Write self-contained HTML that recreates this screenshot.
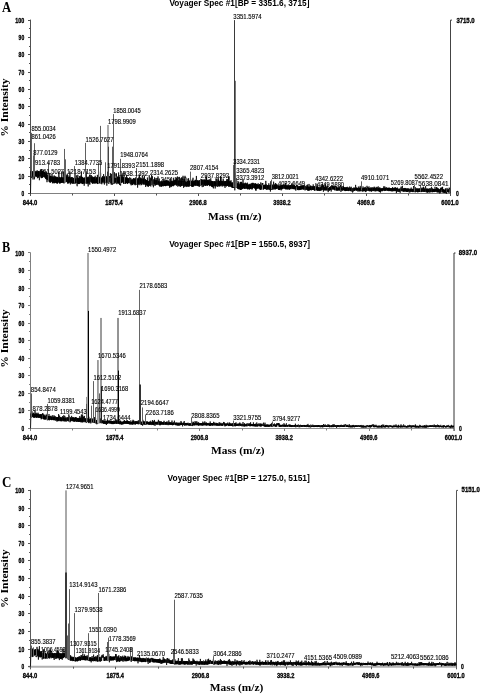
<!DOCTYPE html>
<html><head><meta charset="utf-8"><title>Voyager Spec</title>
<style>html,body{margin:0;padding:0;background:#fff;width:480px;height:695px;overflow:hidden}svg{display:block}</style>
</head><body>
<svg width="480" height="695" viewBox="0 0 480 695">
<rect width="480" height="695" fill="#fff"/>
<path d="M30.50,19.60V196.00" stroke="#505050" stroke-width="1" fill="none"/>
<path d="M28.50,193.50H450.50" stroke="#808080" stroke-width="1" fill="none"/>
<path d="M452.00,20.10H450.50V196.00" stroke="#444" stroke-width="1" fill="none"/>
<path d="M28.00,193.50H30.50M29.00,184.50H30.50M28.00,176.50H30.50M29.00,167.50H30.50M28.00,158.50H30.50M29.00,150.50H30.50M28.00,141.50H30.50M29.00,132.50H30.50M28.00,124.50H30.50M29.00,115.50H30.50M28.00,106.50H30.50M29.00,98.50H30.50M28.00,89.50H30.50M29.00,80.50H30.50M28.00,72.50H30.50M29.00,63.50H30.50M28.00,54.50H30.50M29.00,46.50H30.50M28.00,37.50H30.50M29.00,28.50H30.50M28.00,20.50H30.50M30.50,193.50V196.00M72.50,193.50V195.50M114.50,193.50V196.00M156.50,193.50V195.50M198.50,193.50V196.00M240.50,193.50V195.50M282.50,193.50V196.00M324.50,193.50V195.50M366.50,193.50V196.00M408.50,193.50V195.50M450.50,193.50V196.00" stroke="#505050" stroke-width="1" fill="none"/>
<text x="24.20" y="196.00" font-size="6.9" font-family="'Liberation Sans', Arial, sans-serif" font-weight="bold" text-anchor="end" textLength="2.70" lengthAdjust="spacingAndGlyphs" stroke="#000" stroke-width="0.3">0</text>
<text x="24.20" y="178.66" font-size="6.9" font-family="'Liberation Sans', Arial, sans-serif" font-weight="bold" text-anchor="end" textLength="5.60" lengthAdjust="spacingAndGlyphs" stroke="#000" stroke-width="0.3">10</text>
<text x="24.20" y="161.32" font-size="6.9" font-family="'Liberation Sans', Arial, sans-serif" font-weight="bold" text-anchor="end" textLength="5.60" lengthAdjust="spacingAndGlyphs" stroke="#000" stroke-width="0.3">20</text>
<text x="24.20" y="143.98" font-size="6.9" font-family="'Liberation Sans', Arial, sans-serif" font-weight="bold" text-anchor="end" textLength="5.60" lengthAdjust="spacingAndGlyphs" stroke="#000" stroke-width="0.3">30</text>
<text x="24.20" y="126.64" font-size="6.9" font-family="'Liberation Sans', Arial, sans-serif" font-weight="bold" text-anchor="end" textLength="5.60" lengthAdjust="spacingAndGlyphs" stroke="#000" stroke-width="0.3">40</text>
<text x="24.20" y="109.30" font-size="6.9" font-family="'Liberation Sans', Arial, sans-serif" font-weight="bold" text-anchor="end" textLength="5.60" lengthAdjust="spacingAndGlyphs" stroke="#000" stroke-width="0.3">50</text>
<text x="24.20" y="91.96" font-size="6.9" font-family="'Liberation Sans', Arial, sans-serif" font-weight="bold" text-anchor="end" textLength="5.60" lengthAdjust="spacingAndGlyphs" stroke="#000" stroke-width="0.3">60</text>
<text x="24.20" y="74.62" font-size="6.9" font-family="'Liberation Sans', Arial, sans-serif" font-weight="bold" text-anchor="end" textLength="5.60" lengthAdjust="spacingAndGlyphs" stroke="#000" stroke-width="0.3">70</text>
<text x="24.20" y="57.28" font-size="6.9" font-family="'Liberation Sans', Arial, sans-serif" font-weight="bold" text-anchor="end" textLength="5.60" lengthAdjust="spacingAndGlyphs" stroke="#000" stroke-width="0.3">80</text>
<text x="24.20" y="39.94" font-size="6.9" font-family="'Liberation Sans', Arial, sans-serif" font-weight="bold" text-anchor="end" textLength="5.60" lengthAdjust="spacingAndGlyphs" stroke="#000" stroke-width="0.3">90</text>
<text x="24.20" y="22.60" font-size="6.9" font-family="'Liberation Sans', Arial, sans-serif" font-weight="bold" text-anchor="end" textLength="9.00" lengthAdjust="spacingAndGlyphs" stroke="#000" stroke-width="0.3">100</text>
<text x="30.00" y="204.90" font-size="6.9" font-family="'Liberation Sans', Arial, sans-serif" font-weight="bold" text-anchor="middle" textLength="14.60" lengthAdjust="spacingAndGlyphs" stroke="#000" stroke-width="0.3">844.0</text>
<text x="114.00" y="204.90" font-size="6.9" font-family="'Liberation Sans', Arial, sans-serif" font-weight="bold" text-anchor="middle" textLength="17.40" lengthAdjust="spacingAndGlyphs" stroke="#000" stroke-width="0.3">1875.4</text>
<text x="198.00" y="204.90" font-size="6.9" font-family="'Liberation Sans', Arial, sans-serif" font-weight="bold" text-anchor="middle" textLength="17.40" lengthAdjust="spacingAndGlyphs" stroke="#000" stroke-width="0.3">2906.8</text>
<text x="282.00" y="204.90" font-size="6.9" font-family="'Liberation Sans', Arial, sans-serif" font-weight="bold" text-anchor="middle" textLength="17.40" lengthAdjust="spacingAndGlyphs" stroke="#000" stroke-width="0.3">3938.2</text>
<text x="366.00" y="204.90" font-size="6.9" font-family="'Liberation Sans', Arial, sans-serif" font-weight="bold" text-anchor="middle" textLength="17.40" lengthAdjust="spacingAndGlyphs" stroke="#000" stroke-width="0.3">4969.6</text>
<text x="450.00" y="204.90" font-size="6.9" font-family="'Liberation Sans', Arial, sans-serif" font-weight="bold" text-anchor="middle" textLength="17.40" lengthAdjust="spacingAndGlyphs" stroke="#000" stroke-width="0.3">6001.0</text>
<text x="456.40" y="23.00" font-size="6.9" font-family="'Liberation Sans', Arial, sans-serif" font-weight="bold" textLength="18.30" lengthAdjust="spacingAndGlyphs" stroke="#000" stroke-width="0.3">3715.0</text>
<text x="456.00" y="195.70" font-size="6.9" font-family="'Liberation Sans', Arial, sans-serif" font-weight="bold" textLength="2.80" lengthAdjust="spacingAndGlyphs" stroke="#000" stroke-width="0.3">0</text>
<text x="1.90" y="11.80" font-size="14.8" font-family="'Liberation Serif', 'Times New Roman', serif" font-weight="bold" textLength="9.20" lengthAdjust="spacingAndGlyphs">A</text>
<text x="169.40" y="5.60" font-size="8.8" font-family="'Liberation Sans', Arial, sans-serif" font-weight="bold" textLength="140.00" lengthAdjust="spacingAndGlyphs">Voyager Spec #1[BP = 3351.6, 3715]</text>
<text x="8.10" y="136.80" font-size="11.4" font-family="'Liberation Serif', 'Times New Roman', serif" font-weight="bold" textLength="58.40" lengthAdjust="spacingAndGlyphs" transform="rotate(-90 8.1 136.80)">% Intensity</text>
<text x="208.00" y="219.50" font-size="11.4" font-family="'Liberation Serif', 'Times New Roman', serif" font-weight="bold" textLength="53.50" lengthAdjust="spacingAndGlyphs">Mass (m/z)</text>
<polyline fill="none" stroke="#000" stroke-width="0.75" stroke-linejoin="bevel" points="30.50,193.50 31.00,171.15 31.20,177.02 31.40,170.25 31.60,177.58 31.80,177.91 32.00,175.73 32.20,171.15 32.40,176.55 32.60,171.47 32.80,176.32 33.00,179.49 33.20,175.64 33.40,171.58 33.60,176.26 33.80,170.82 34.00,176.58 34.20,171.93 34.40,179.31 34.60,170.46 34.80,177.28 35.00,172.11 35.20,176.24 35.40,171.79 35.60,176.08 35.80,171.32 36.00,176.25 36.20,170.91 36.40,176.73 36.60,172.04 36.80,176.52 37.00,171.53 37.20,170.28 37.40,178.24 37.60,176.75 37.80,171.16 38.00,177.37 38.20,171.79 38.40,177.64 38.60,171.02 38.80,176.22 39.00,170.96 39.20,176.46 39.40,180.23 39.60,177.19 39.80,171.40 40.00,176.27 40.20,172.56 40.40,169.65 40.60,172.75 40.80,176.61 41.00,171.95 41.20,178.07 41.40,169.14 41.60,178.07 41.80,177.73 42.00,177.62 42.20,171.41 42.40,177.86 42.60,171.04 42.80,176.84 43.00,171.54 43.20,177.14 43.40,171.21 43.60,170.32 43.80,172.01 44.00,176.64 44.20,171.89 44.40,177.07 44.60,172.31 44.80,177.69 45.00,172.87 45.20,171.54 45.40,173.58 45.60,178.82 45.80,173.64 46.00,178.56 46.20,173.43 46.40,179.55 46.60,171.65 46.80,179.02 47.00,182.20 47.20,179.58 47.40,175.11 47.60,180.05 47.80,175.98 48.00,172.89 48.20,175.94 48.40,174.57 48.60,172.70 48.80,174.07 49.00,176.40 49.20,181.99 49.40,176.65 49.60,182.07 49.80,172.97 50.00,182.47 50.20,176.06 50.40,182.64 50.60,175.83 50.80,181.63 51.00,176.97 51.20,181.54 51.40,176.21 51.60,181.70 51.80,177.59 52.00,173.95 52.20,176.59 52.40,183.24 52.60,176.42 52.80,182.89 53.00,177.59 53.20,183.28 53.40,177.36 53.60,181.89 53.80,176.45 54.00,182.65 54.20,175.41 54.40,183.27 54.60,177.83 54.80,182.52 55.00,176.33 55.20,183.02 55.40,176.81 55.60,182.07 55.80,176.63 56.00,182.95 56.20,178.07 56.40,183.21 56.60,177.12 56.80,183.05 57.00,176.81 57.20,183.61 57.40,177.51 57.60,183.40 57.80,177.15 58.00,182.32 58.20,177.93 58.40,182.42 58.60,177.47 58.80,171.50 59.00,173.43 59.20,182.62 59.40,176.86 59.60,183.35 59.80,177.86 60.00,183.70 60.20,177.83 60.40,182.87 60.60,177.82 60.80,182.69 61.00,177.22 61.20,182.80 61.40,177.17 61.60,182.79 61.80,171.47 62.00,182.44 62.20,177.31 62.40,182.23 62.60,177.76 62.80,182.90 63.00,177.90 63.20,183.03 63.40,176.79 63.60,171.46 63.80,176.96 64.00,183.46 64.20,177.22 64.40,182.30 64.60,174.99 64.80,181.56 65.00,177.04 65.20,181.90 65.40,176.32 65.60,181.30 65.80,177.11 66.00,181.66 66.20,176.83 66.40,181.82 66.60,175.27 66.80,182.17 67.00,177.51 67.20,173.80 67.40,176.92 67.60,183.62 67.80,175.01 68.00,182.89 68.20,177.32 68.40,183.09 68.60,176.97 68.80,183.49 69.00,176.65 69.20,182.60 69.40,176.60 69.60,182.34 69.80,171.40 70.00,172.14 70.20,177.30 70.40,184.38 70.60,177.62 70.80,182.35 71.00,177.46 71.20,182.74 71.40,177.77 71.60,182.64 71.80,177.08 72.00,183.67 72.20,177.21 72.40,183.58 72.60,183.82 72.80,183.22 73.00,177.78 73.20,182.89 73.40,177.97 73.60,183.39 73.80,178.16 74.00,183.94 74.20,178.47 74.40,182.81 74.60,178.00 74.80,182.72 75.00,173.75 75.20,183.56 75.40,178.72 75.60,183.20 75.80,178.63 76.00,183.07 76.20,177.16 76.40,175.38 76.60,177.47 76.80,183.37 77.00,185.22 77.20,186.22 77.40,177.47 77.60,183.36 77.80,174.80 78.00,183.76 78.20,178.00 78.40,183.88 78.60,178.66 78.80,184.07 79.00,177.84 79.20,183.19 79.40,176.02 79.60,183.93 79.80,178.20 80.00,183.12 80.20,176.82 80.40,183.19 80.60,178.42 80.80,175.65 81.00,177.31 81.20,183.20 81.40,171.29 81.60,183.18 81.80,177.00 82.00,183.51 82.20,176.86 82.40,184.06 82.60,177.37 82.80,183.82 83.00,178.31 83.20,183.86 83.40,177.72 83.60,182.95 83.80,178.06 84.00,183.47 84.20,185.71 84.40,184.36 84.60,177.45 84.80,183.55 85.00,178.39 85.20,182.67 85.40,178.05 85.60,183.24 85.80,176.90 86.00,182.50 86.20,171.25 86.40,174.91 86.60,177.94 86.80,183.86 87.00,177.57 87.20,183.72 87.40,177.64 87.60,183.04 87.80,176.82 88.00,183.31 88.20,186.43 88.40,182.33 88.60,176.75 88.80,183.16 89.00,177.95 89.20,183.93 89.40,176.37 89.60,174.81 89.80,184.73 90.00,183.50 90.20,174.70 90.40,175.58 90.60,176.21 90.80,181.78 91.00,177.07 91.20,182.04 91.40,175.18 91.60,182.57 91.80,177.51 92.00,182.52 92.20,177.57 92.40,183.70 92.60,176.43 92.80,183.49 93.00,177.91 93.20,183.15 93.40,177.60 93.60,183.10 93.80,177.00 94.00,183.39 94.20,177.15 94.40,183.49 94.60,177.49 94.80,182.66 95.00,176.84 95.20,175.78 95.40,178.41 95.60,183.48 95.80,178.54 96.00,183.06 96.20,177.00 96.40,183.21 96.60,178.00 96.80,183.02 97.00,177.51 97.20,183.37 97.40,174.88 97.60,184.04 97.80,177.52 98.00,183.92 98.20,177.64 98.40,182.98 98.60,171.56 98.80,182.47 99.00,177.06 99.20,182.73 99.40,177.68 99.60,183.21 99.80,176.78 100.00,183.48 100.20,177.95 100.40,182.96 100.60,172.89 100.80,182.86 101.00,177.54 101.20,183.57 101.40,177.81 101.60,182.27 101.80,184.25 102.00,183.54 102.20,177.41 102.40,181.90 102.60,176.08 102.80,182.82 103.00,177.26 103.20,181.69 103.40,176.80 103.60,174.08 103.80,176.11 104.00,183.30 104.20,176.52 104.40,184.59 104.60,177.26 104.80,182.04 105.00,176.50 105.20,182.09 105.40,176.43 105.60,181.97 105.80,176.19 106.00,182.88 106.20,176.00 106.40,181.95 106.60,177.00 106.80,185.64 107.00,177.55 107.20,182.61 107.40,176.61 107.60,171.68 107.80,176.69 108.00,182.80 108.20,177.79 108.40,182.20 108.60,177.28 108.80,183.96 109.00,176.90 109.20,182.20 109.40,178.33 109.60,176.21 109.80,176.99 110.00,176.22 110.20,177.91 110.40,173.19 110.60,178.09 110.80,183.26 111.00,177.69 111.20,184.50 111.40,178.73 111.60,173.87 111.80,178.66 112.00,184.68 112.20,178.02 112.40,184.32 112.60,178.44 112.80,184.23 113.00,178.34 113.20,183.72 113.40,178.38 113.60,183.49 113.80,177.21 114.00,182.79 114.20,177.10 114.40,172.18 114.60,177.21 114.80,183.79 115.00,177.93 115.20,182.68 115.40,177.91 115.60,182.48 115.80,177.75 116.00,173.38 116.20,176.22 116.40,173.52 116.60,177.15 116.80,184.16 117.00,177.79 117.20,182.74 117.40,176.90 117.60,182.36 117.80,176.52 118.00,183.61 118.20,177.13 118.40,183.32 118.60,172.48 118.80,183.24 119.00,177.59 119.20,183.53 119.40,177.06 119.60,185.04 119.80,177.23 120.00,175.32 120.20,174.92 120.40,183.17 120.60,185.51 120.80,183.53 121.00,176.67 121.20,182.54 121.40,176.35 121.60,182.92 121.80,176.96 122.00,174.61 122.20,177.68 122.40,181.97 122.60,176.75 122.80,182.30 123.00,172.80 123.20,183.03 123.40,177.07 123.60,183.76 123.80,177.71 124.00,183.74 124.20,178.06 124.40,182.47 124.60,177.07 124.80,183.27 125.00,178.01 125.20,183.96 125.40,177.52 125.60,183.39 125.80,177.35 126.00,183.25 126.20,178.40 126.40,182.91 126.60,174.94 126.80,183.16 127.00,178.44 127.20,183.15 127.40,177.47 127.60,184.04 127.80,178.27 128.00,183.08 128.20,178.69 128.40,182.63 128.60,178.44 128.80,182.93 129.00,178.21 129.20,183.23 129.40,178.28 129.60,177.36 129.80,177.86 130.00,177.78 130.20,179.14 130.40,184.26 130.60,179.17 130.80,177.85 131.00,179.04 131.20,185.35 131.40,179.82 131.60,183.74 131.80,179.57 132.00,184.44 132.20,179.53 132.40,184.95 132.60,179.54 132.80,185.08 133.00,179.72 133.20,183.79 133.40,178.05 133.60,183.37 133.80,178.57 134.00,183.33 134.20,179.25 134.40,184.31 134.60,178.59 134.80,184.54 135.00,178.45 135.20,185.25 135.40,179.77 135.60,184.46 135.80,177.33 136.00,183.90 136.20,178.61 136.40,184.49 136.60,178.29 136.80,184.34 137.00,179.15 137.20,184.15 137.40,179.20 137.60,187.63 137.80,178.07 138.00,183.91 138.20,178.81 138.40,184.55 138.60,178.42 138.80,183.69 139.00,176.63 139.20,185.16 139.40,174.55 139.60,178.04 139.80,178.68 140.00,183.90 140.20,178.71 140.40,183.96 140.60,177.60 140.80,183.66 141.00,185.26 141.20,184.14 141.40,178.25 141.60,184.81 141.80,179.22 142.00,183.24 142.20,176.08 142.40,175.73 142.60,177.12 142.80,184.41 143.00,179.00 143.20,183.26 143.40,178.94 143.60,184.34 143.80,177.70 144.00,184.55 144.20,178.02 144.40,175.51 144.60,179.18 144.80,184.38 145.00,179.28 145.20,184.36 145.40,179.27 145.60,186.95 145.80,180.19 146.00,184.87 146.20,179.97 146.40,185.01 146.60,180.36 146.80,185.34 147.00,180.19 147.20,186.35 147.40,177.56 147.60,186.13 147.80,181.12 148.00,185.51 148.20,181.77 148.40,186.85 148.60,180.93 148.80,185.53 149.00,180.55 149.20,175.19 149.40,176.64 149.60,185.70 149.80,180.25 150.00,185.71 150.20,180.22 150.40,178.52 150.60,177.70 150.80,186.48 151.00,180.51 151.20,178.40 151.40,180.48 151.60,174.89 151.80,180.11 152.00,184.96 152.20,180.06 152.40,176.27 152.60,179.37 152.80,184.36 153.00,185.65 153.20,185.05 153.40,187.26 153.60,183.60 153.80,179.27 154.00,184.06 154.20,179.63 154.40,184.42 154.60,177.35 154.80,184.67 155.00,185.83 155.20,183.89 155.40,179.84 155.60,185.20 155.80,180.26 156.00,178.05 156.20,179.09 156.40,184.64 156.60,180.17 156.80,184.96 157.00,179.94 157.20,177.88 157.40,179.62 157.60,184.58 157.80,180.68 158.00,176.38 158.20,178.07 158.40,184.51 158.60,180.92 158.80,185.35 159.00,179.98 159.20,179.29 159.40,178.64 159.60,186.47 159.80,181.88 160.00,185.89 160.20,181.12 160.40,185.81 160.60,186.25 160.80,186.34 161.00,181.85 161.20,186.99 161.40,182.28 161.60,185.99 161.80,181.30 162.00,186.39 162.20,181.44 162.40,185.77 162.60,182.25 162.80,185.97 163.00,181.56 163.20,178.97 163.40,186.31 163.60,185.89 163.80,180.80 164.00,185.56 164.20,181.27 164.40,185.62 164.60,180.77 164.80,186.02 165.00,180.91 165.20,185.79 165.40,180.86 165.60,186.16 165.80,180.61 166.00,185.63 166.20,181.00 166.40,185.36 166.60,180.25 166.80,185.48 167.00,180.33 167.20,185.74 167.40,181.25 167.60,185.24 167.80,181.21 168.00,184.92 168.20,180.44 168.40,185.26 168.60,181.53 168.80,185.71 169.00,181.08 169.20,186.00 169.40,182.03 169.60,187.77 169.80,182.26 170.00,185.76 170.20,182.00 170.40,186.21 170.60,178.39 170.80,187.20 171.00,186.57 171.20,186.94 171.40,180.82 171.60,186.38 171.80,181.62 172.00,185.79 172.20,181.34 172.40,185.86 172.60,181.81 172.80,185.82 173.00,180.58 173.20,186.28 173.40,177.75 173.60,185.65 173.80,181.02 174.00,184.94 174.20,181.12 174.40,185.23 174.60,180.20 174.80,185.17 175.00,179.50 175.20,184.20 175.40,179.63 175.60,184.46 175.80,179.58 176.00,184.80 176.20,180.56 176.40,185.71 176.60,178.14 176.80,184.82 177.00,180.93 177.20,185.32 177.40,176.51 177.60,178.49 177.80,186.67 178.00,186.03 178.20,181.64 178.40,185.44 178.60,180.39 178.80,185.80 179.00,181.10 179.20,176.86 179.40,181.00 179.60,186.33 179.80,180.59 180.00,185.77 180.20,178.32 180.40,179.50 180.60,186.87 180.80,185.43 181.00,180.96 181.20,185.90 181.40,178.26 181.60,185.81 181.80,181.23 182.00,185.84 182.20,180.86 182.40,178.70 182.60,180.50 182.80,185.61 183.00,175.79 183.20,179.11 183.40,180.60 183.60,187.83 183.80,180.91 184.00,185.81 184.20,181.54 184.40,179.09 184.60,182.26 184.80,187.01 185.00,175.82 185.20,185.73 185.40,182.07 185.60,185.86 185.80,182.19 186.00,186.58 186.20,186.71 186.40,186.01 186.60,181.80 186.80,186.60 187.00,181.42 187.20,186.51 187.40,180.99 187.60,186.21 187.80,181.13 188.00,178.61 188.20,181.73 188.40,186.44 188.60,178.30 188.80,186.48 189.00,180.95 189.20,186.54 189.40,180.72 189.60,185.30 189.80,180.69 190.00,185.44 190.20,181.20 190.40,185.77 190.60,181.60 190.80,185.88 191.00,181.63 191.20,185.26 191.40,180.92 191.60,186.51 191.80,181.27 192.00,186.47 192.20,179.66 192.40,186.77 192.60,181.66 192.80,186.84 193.00,177.77 193.20,185.90 193.40,181.08 193.60,186.58 193.80,181.64 194.00,185.54 194.20,181.43 194.40,185.12 194.60,181.12 194.80,185.29 195.00,179.92 195.20,186.02 195.40,180.39 195.60,185.29 195.80,179.84 196.00,185.14 196.20,181.16 196.40,175.96 196.60,179.82 196.80,186.01 197.00,180.62 197.20,185.07 197.40,180.29 197.60,185.88 197.80,180.84 198.00,186.11 198.20,180.80 198.40,185.39 198.60,181.40 198.80,186.31 199.00,180.14 199.20,185.95 199.40,186.78 199.60,185.15 199.80,180.18 200.00,185.83 200.20,180.25 200.40,184.77 200.60,180.65 200.80,185.04 201.00,180.70 201.20,185.26 201.40,179.24 201.60,185.25 201.80,179.47 202.00,183.97 202.20,187.14 202.40,185.28 202.60,179.71 202.80,184.31 203.00,179.89 203.20,184.37 203.40,186.78 203.60,184.34 203.80,179.48 204.00,185.46 204.20,180.29 204.40,185.36 204.60,179.54 204.80,184.42 205.00,180.74 205.20,185.79 205.40,179.89 205.60,185.87 205.80,180.21 206.00,176.08 206.20,180.57 206.40,185.60 206.60,177.30 206.80,185.07 207.00,180.80 207.20,184.86 207.40,179.87 207.60,185.91 207.80,180.15 208.00,185.10 208.20,179.99 208.40,184.98 208.60,180.50 208.80,185.02 209.00,180.73 209.20,179.14 209.40,180.35 209.60,186.13 209.80,180.06 210.00,186.09 210.20,181.52 210.40,185.45 210.60,179.15 210.80,178.34 211.00,181.83 211.20,185.90 211.40,180.83 211.60,186.84 211.80,180.94 212.00,185.80 212.20,181.79 212.40,187.07 212.60,181.05 212.80,187.18 213.00,181.10 213.20,186.72 213.40,188.39 213.60,186.36 213.80,181.64 214.00,186.40 214.20,181.00 214.40,185.87 214.60,181.68 214.80,185.48 215.00,181.54 215.20,188.48 215.40,181.49 215.60,186.25 215.80,181.99 216.00,178.34 216.20,180.55 216.40,186.27 216.60,180.78 216.80,178.94 217.00,180.10 217.20,185.61 217.40,186.72 217.60,185.68 217.80,180.62 218.00,186.57 218.20,177.69 218.40,185.57 218.60,179.57 218.80,185.87 219.00,181.02 219.20,186.42 219.40,181.23 219.60,186.11 219.80,180.91 220.00,186.36 220.20,180.70 220.40,185.61 220.60,176.26 220.80,185.43 221.00,176.79 221.20,185.38 221.40,181.02 221.60,185.20 221.80,180.79 222.00,186.44 222.20,180.94 222.40,185.29 222.60,181.48 222.80,186.35 223.00,181.98 223.20,178.70 223.40,181.83 223.60,185.50 223.80,180.76 224.00,185.71 224.20,181.34 224.40,186.14 224.60,181.32 224.80,185.94 225.00,187.89 225.20,186.85 225.40,181.18 225.60,185.92 225.80,180.99 226.00,186.03 226.20,180.89 226.40,186.51 226.60,179.29 226.80,179.48 227.00,181.14 227.20,185.88 227.40,179.07 227.60,185.88 227.80,181.70 228.00,185.97 228.20,180.40 228.40,185.17 228.60,176.36 228.80,186.87 229.00,176.36 229.20,186.81 229.40,181.93 229.60,185.77 229.80,180.93 230.00,185.63 230.20,181.28 230.40,186.55 230.60,181.70 230.80,186.45 231.00,180.25 231.20,186.64 231.40,182.55 231.60,187.33 231.80,183.09 232.00,187.24 232.20,182.78 232.40,187.97 232.60,182.69 232.80,187.42 233.00,182.19 233.20,188.01 233.40,183.31 233.60,187.54 233.80,183.00 234.00,187.19 234.20,183.22 234.40,187.41 234.60,183.33 234.80,190.33 235.00,183.28 235.20,179.90 235.40,178.60 235.60,187.01 235.80,183.32 236.00,187.61 236.20,181.67 236.40,181.38 236.60,183.16 236.80,187.94 237.00,180.78 237.20,187.59 237.40,183.35 237.60,188.56 237.80,183.91 238.00,188.83 238.20,183.33 238.40,189.13 238.60,181.45 238.80,188.14 239.00,184.30 239.20,189.37 239.40,184.38 239.60,189.20 239.80,184.92 240.00,182.50 240.20,185.17 240.40,189.89 240.60,182.08 240.80,189.90 241.00,181.76 241.20,189.88 241.40,181.95 241.60,188.79 241.80,184.27 242.00,182.74 242.20,184.44 242.40,189.10 242.60,183.79 242.80,188.77 243.00,179.20 243.20,188.27 243.40,183.53 243.60,188.12 243.80,183.57 244.00,188.16 244.20,184.45 244.40,188.69 244.60,183.62 244.80,188.78 245.00,182.83 245.20,188.60 245.40,183.85 245.60,182.82 245.80,183.96 246.00,188.75 246.20,183.39 246.40,187.99 246.60,183.76 246.80,188.41 247.00,184.55 247.20,188.89 247.40,182.68 247.60,189.16 247.80,184.81 248.00,189.44 248.20,184.81 248.40,188.31 248.60,184.87 248.80,188.99 249.00,183.83 249.20,188.83 249.40,184.91 249.60,189.62 249.80,183.97 250.00,188.50 250.20,184.60 250.40,188.41 250.60,184.61 250.80,189.00 251.00,183.49 251.20,188.75 251.40,184.25 251.60,183.52 251.80,184.24 252.00,189.55 252.20,182.85 252.40,188.83 252.60,183.45 252.80,187.79 253.00,184.05 253.20,182.83 253.40,183.30 253.60,188.02 253.80,183.68 254.00,183.15 254.20,184.37 254.40,188.67 254.60,183.96 254.80,187.94 255.00,183.67 255.20,187.95 255.40,183.40 255.60,190.23 255.80,183.47 256.00,190.72 256.20,184.19 256.40,189.09 256.60,184.05 256.80,188.14 257.00,184.61 257.20,188.92 257.40,184.45 257.60,188.27 257.80,184.34 258.00,183.70 258.20,183.29 258.40,188.29 258.60,184.76 258.80,188.16 259.00,184.85 259.20,189.07 259.40,184.00 259.60,188.56 259.80,184.24 260.00,189.50 260.20,184.95 260.40,189.88 260.60,184.55 260.80,182.42 261.00,185.27 261.20,189.81 261.40,185.60 261.60,188.66 261.80,184.77 262.00,183.54 262.20,184.36 262.40,183.12 262.60,184.56 262.80,183.12 263.00,184.94 263.20,189.83 263.40,185.27 263.60,189.11 263.80,184.95 264.00,188.66 264.20,184.99 264.40,188.74 264.60,184.73 264.80,188.43 265.00,185.29 265.20,189.08 265.40,185.02 265.60,189.14 265.80,180.88 266.00,188.65 266.20,184.30 266.40,188.32 266.60,189.79 266.80,188.53 267.00,185.63 267.20,189.82 267.40,185.38 267.60,188.78 267.80,185.20 268.00,188.81 268.20,185.09 268.40,189.54 268.60,185.31 268.80,183.32 269.00,184.69 269.20,189.23 269.40,189.92 269.60,189.63 269.80,185.23 270.00,189.86 270.20,184.91 270.40,191.56 270.60,184.97 270.80,181.25 271.00,186.20 271.20,189.67 271.40,184.38 271.60,189.25 271.80,185.16 272.00,189.74 272.20,185.82 272.40,184.61 272.60,186.00 272.80,189.66 273.00,185.49 273.20,188.85 273.40,185.45 273.60,181.68 273.80,185.86 274.00,189.64 274.20,185.48 274.40,188.60 274.60,184.39 274.80,188.67 275.00,185.04 275.20,189.23 275.40,183.05 275.60,189.33 275.80,185.01 276.00,188.76 276.20,183.75 276.40,188.55 276.60,184.55 276.80,188.82 277.00,185.69 277.20,188.43 277.40,184.89 277.60,184.72 277.80,184.75 278.00,188.56 278.20,185.84 278.40,189.78 278.60,185.30 278.80,189.70 279.00,186.01 279.20,189.57 279.40,185.57 279.60,190.04 279.80,185.76 280.00,189.50 280.20,185.77 280.40,189.12 280.60,185.74 280.80,189.30 281.00,185.10 281.20,190.36 281.40,185.72 281.60,188.87 281.80,185.11 282.00,189.36 282.20,184.88 282.40,188.91 282.60,185.52 282.80,188.49 283.00,185.07 283.20,184.57 283.40,185.20 283.60,188.67 283.80,185.14 284.00,184.45 284.20,185.47 284.40,188.25 284.60,185.28 284.80,188.68 285.00,185.52 285.20,189.04 285.40,182.85 285.60,189.23 285.80,185.65 286.00,189.29 286.20,185.99 286.40,189.03 286.60,185.61 286.80,189.36 287.00,185.77 287.20,188.77 287.40,185.35 287.60,189.28 287.80,185.64 288.00,189.46 288.20,186.05 288.40,188.76 288.60,185.39 288.80,188.67 289.00,186.21 289.20,189.61 289.40,186.17 289.60,189.60 289.80,185.23 290.00,188.95 290.20,185.62 290.40,188.67 290.60,184.97 290.80,189.16 291.00,185.60 291.20,188.34 291.40,185.20 291.60,183.48 291.80,185.59 292.00,189.11 292.20,185.18 292.40,188.58 292.60,185.67 292.80,188.45 293.00,183.57 293.20,189.07 293.40,186.15 293.60,189.00 293.80,185.71 294.00,189.27 294.20,185.36 294.40,188.79 294.60,185.43 294.80,188.91 295.00,186.18 295.20,189.68 295.40,185.94 295.60,189.77 295.80,190.64 296.00,190.01 296.20,186.16 296.40,185.60 296.60,186.51 296.80,185.26 297.00,186.50 297.20,189.40 297.40,186.15 297.60,189.93 297.80,186.09 298.00,189.85 298.20,190.18 298.40,189.38 298.60,186.45 298.80,190.03 299.00,186.19 299.20,189.30 299.40,186.46 299.60,190.08 299.80,186.15 300.00,189.56 300.20,185.91 300.40,189.78 300.60,185.81 300.80,189.35 301.00,186.08 301.20,189.57 301.40,185.58 301.60,189.18 301.80,185.71 302.00,189.30 302.20,185.81 302.40,189.15 302.60,185.79 302.80,188.88 303.00,185.59 303.20,189.51 303.40,185.84 303.60,189.30 303.80,185.69 304.00,189.58 304.20,185.63 304.40,185.26 304.60,184.77 304.80,189.74 305.00,190.42 305.20,190.08 305.40,186.39 305.60,185.94 305.80,187.02 306.00,190.06 306.20,186.79 306.40,189.57 306.60,186.46 306.80,185.31 307.00,186.93 307.20,189.97 307.40,184.56 307.60,190.57 307.80,186.65 308.00,190.15 308.20,186.52 308.40,190.36 308.60,187.25 308.80,190.77 309.00,183.93 309.20,190.59 309.40,187.18 309.60,189.81 309.80,186.89 310.00,189.92 310.20,185.74 310.40,189.96 310.60,185.66 310.80,189.98 311.00,187.40 311.20,190.46 311.40,187.38 311.60,185.92 311.80,186.42 312.00,189.93 312.20,186.58 312.40,189.92 312.60,186.35 312.80,189.53 313.00,186.90 313.20,184.40 313.40,185.46 313.60,189.91 313.80,186.16 314.00,189.91 314.20,186.80 314.40,190.80 314.60,186.19 314.80,189.55 315.00,186.78 315.20,190.50 315.40,186.83 315.60,185.26 315.80,186.46 316.00,186.26 316.20,187.48 316.40,190.25 316.60,186.92 316.80,190.05 317.00,183.60 317.20,190.62 317.40,186.13 317.60,190.85 317.80,187.63 318.00,189.99 318.20,186.79 318.40,190.50 318.60,187.59 318.80,190.69 319.00,187.34 319.20,190.78 319.40,187.38 319.60,190.97 319.80,190.53 320.00,190.37 320.20,187.49 320.40,190.84 320.60,187.14 320.80,190.10 321.00,186.92 321.20,184.51 321.40,186.91 321.60,190.46 321.80,186.88 322.00,189.98 322.20,187.33 322.40,183.92 322.60,186.96 322.80,189.74 323.00,187.14 323.20,185.33 323.40,191.70 323.60,185.91 323.80,186.73 324.00,189.79 324.20,186.75 324.40,190.26 324.60,187.35 324.80,190.38 325.00,187.58 325.20,183.88 325.40,187.31 325.60,190.34 325.80,185.93 326.00,190.23 326.20,187.12 326.40,190.27 326.60,187.27 326.80,186.46 327.00,187.46 327.20,190.61 327.40,187.75 327.60,185.46 327.80,187.58 328.00,190.93 328.20,192.13 328.40,191.02 328.60,187.94 328.80,190.44 329.00,187.70 329.20,190.52 329.40,187.36 329.60,190.40 329.80,187.04 330.00,190.11 330.20,186.88 330.40,190.02 330.60,186.55 330.80,190.01 331.00,187.07 331.20,191.54 331.40,186.69 331.60,185.78 331.80,186.87 332.00,185.10 332.20,186.42 332.40,189.54 332.60,185.86 332.80,188.89 333.00,186.53 333.20,189.38 333.40,186.66 333.60,188.97 333.80,186.62 334.00,189.86 334.20,186.75 334.40,189.70 334.60,186.29 334.80,190.40 335.00,186.96 335.20,185.82 335.40,186.68 335.60,186.39 335.80,187.55 336.00,190.42 336.20,187.09 336.40,190.32 336.60,186.88 336.80,190.47 337.00,187.69 337.20,190.47 337.40,187.84 337.60,190.56 337.80,187.48 338.00,190.07 338.20,187.69 338.40,190.41 338.60,187.65 338.80,190.13 339.00,187.23 339.20,190.58 339.40,187.43 339.60,190.40 339.80,187.11 340.00,186.95 340.20,186.78 340.40,185.10 340.60,186.96 340.80,191.49 341.00,191.91 341.20,189.74 341.40,186.73 341.60,190.19 341.80,187.42 342.00,190.15 342.20,191.02 342.40,190.11 342.60,187.51 342.80,190.23 343.00,187.54 343.20,189.85 343.40,186.05 343.60,190.04 343.80,187.09 344.00,190.49 344.20,187.38 344.40,190.53 344.60,187.56 344.80,190.37 345.00,187.57 345.20,191.11 345.40,187.53 345.60,191.01 345.80,187.78 346.00,190.99 346.20,187.06 346.40,190.70 346.60,187.72 346.80,190.91 347.00,187.55 347.20,190.98 347.40,186.81 347.60,187.04 347.80,187.88 348.00,190.87 348.20,187.86 348.40,191.09 348.60,187.66 348.80,190.56 349.00,187.98 349.20,190.50 349.40,187.88 349.60,186.58 349.80,188.20 350.00,190.87 350.20,187.92 350.40,191.16 350.60,187.65 350.80,190.69 351.00,188.15 351.20,186.77 351.40,188.14 351.60,191.23 351.80,191.61 352.00,191.35 352.20,187.97 352.40,190.81 352.60,192.51 352.80,191.35 353.00,188.35 353.20,191.28 353.40,191.34 353.60,190.57 353.80,187.57 354.00,190.77 354.20,187.69 354.40,190.65 354.60,188.07 354.80,190.58 355.00,187.87 355.20,190.34 355.40,188.09 355.60,184.88 355.80,187.23 356.00,190.13 356.20,187.82 356.40,190.75 356.60,187.57 356.80,190.23 357.00,187.93 357.20,190.50 357.40,188.13 357.60,190.34 357.80,188.06 358.00,191.58 358.20,187.45 358.40,186.59 358.60,187.51 358.80,190.79 359.00,187.36 359.20,191.22 359.40,188.27 359.60,191.13 359.80,188.28 360.00,191.25 360.20,185.90 360.40,191.15 360.60,188.02 360.80,190.53 361.00,187.24 361.20,190.50 361.40,188.33 361.60,190.95 361.80,187.93 362.00,190.25 362.20,191.60 362.40,190.81 362.60,188.36 362.80,191.25 363.00,186.45 363.20,191.21 363.40,188.24 363.60,190.96 363.80,188.02 364.00,191.25 364.20,187.38 364.40,191.13 364.60,187.94 364.80,190.84 365.00,187.65 365.20,187.40 365.40,186.88 365.60,192.07 365.80,187.87 366.00,190.48 366.20,191.46 366.40,190.65 366.60,188.20 366.80,190.95 367.00,185.83 367.20,190.87 367.40,187.96 367.60,187.20 367.80,187.78 368.00,187.55 368.20,187.67 368.40,190.52 368.60,187.82 368.80,190.87 369.00,186.44 369.20,191.24 369.40,188.30 369.60,190.64 369.80,188.17 370.00,191.29 370.20,188.57 370.40,190.91 370.60,188.45 370.80,191.21 371.00,187.02 371.20,191.01 371.40,188.10 371.60,191.71 371.80,188.21 372.00,190.82 372.20,188.41 372.40,187.38 372.60,188.24 372.80,191.00 373.00,187.85 373.20,191.13 373.40,187.88 373.60,190.45 373.80,187.64 374.00,190.37 374.20,186.70 374.40,190.71 374.60,187.68 374.80,190.73 375.00,191.47 375.20,190.67 375.40,187.92 375.60,190.83 375.80,188.25 376.00,191.37 376.20,186.86 376.40,190.73 376.60,188.24 376.80,190.57 377.00,188.07 377.20,187.05 377.40,188.06 377.60,190.85 377.80,188.24 378.00,191.17 378.20,186.37 378.40,191.35 378.60,188.15 378.80,190.92 379.00,188.48 379.20,190.72 379.40,188.11 379.60,191.94 379.80,187.24 380.00,191.29 380.20,188.56 380.40,192.56 380.60,188.32 380.80,191.35 381.00,191.42 381.20,191.08 381.40,188.65 381.60,191.07 381.80,188.10 382.00,191.04 382.20,188.54 382.40,191.19 382.60,188.31 382.80,190.82 383.00,188.01 383.20,187.83 383.40,188.39 383.60,190.44 383.80,186.28 384.00,190.29 384.20,188.18 384.40,191.05 384.60,187.61 384.80,186.50 385.00,188.11 385.20,190.73 385.40,187.70 385.60,190.72 385.80,187.83 386.00,190.62 386.20,188.02 386.40,187.80 386.60,187.29 386.80,190.31 387.00,187.93 387.20,190.61 387.40,187.90 387.60,190.61 387.80,187.96 388.00,190.28 388.20,188.28 388.40,191.11 388.60,187.71 388.80,190.70 389.00,188.21 389.20,190.50 389.40,187.66 389.60,190.89 389.80,188.65 390.00,191.16 390.20,188.21 390.40,190.95 390.60,188.08 390.80,190.81 391.00,188.68 391.20,191.17 391.40,188.45 391.60,191.06 391.80,188.18 392.00,191.36 392.20,187.99 392.40,191.19 392.60,187.13 392.80,190.81 393.00,188.43 393.20,191.14 393.40,187.91 393.60,190.99 393.80,188.44 394.00,191.18 394.20,188.39 394.40,190.80 394.60,187.60 394.80,190.70 395.00,188.04 395.20,191.15 395.40,187.19 395.60,190.78 395.80,188.22 396.00,190.98 396.20,188.36 396.40,193.10 396.60,188.03 396.80,190.75 397.00,191.79 397.20,187.48 397.40,187.78 397.60,191.30 397.80,188.41 398.00,191.20 398.20,188.84 398.40,191.42 398.60,192.04 398.80,191.52 399.00,188.97 399.20,191.83 399.40,188.67 399.60,191.40 399.80,188.78 400.00,191.40 400.20,192.78 400.40,191.60 400.60,188.37 400.80,187.71 401.00,188.63 401.20,186.60 401.40,188.30 401.60,191.08 401.80,188.58 402.00,191.20 402.20,188.41 402.40,185.85 402.60,188.47 402.80,191.27 403.00,188.35 403.20,191.47 403.40,188.55 403.60,191.55 403.80,188.27 404.00,191.26 404.20,188.83 404.40,191.50 404.60,188.00 404.80,191.34 405.00,187.93 405.20,190.83 405.40,188.49 405.60,191.49 405.80,188.44 406.00,191.30 406.20,188.58 406.40,191.88 406.60,188.92 406.80,191.32 407.00,188.50 407.20,191.91 407.40,189.14 407.60,191.67 407.80,188.27 408.00,191.65 408.20,188.88 408.40,191.07 408.60,188.58 408.80,191.23 409.00,192.26 409.20,191.46 409.40,188.78 409.60,191.24 409.80,192.53 410.00,192.07 410.20,189.06 410.40,191.36 410.60,188.74 410.80,192.02 411.00,188.81 411.20,187.62 411.40,188.89 411.60,191.52 411.80,189.12 412.00,191.85 412.20,188.85 412.40,192.10 412.60,188.97 412.80,191.63 413.00,189.07 413.20,191.81 413.40,188.01 413.60,186.02 413.80,188.70 414.00,192.11 414.20,189.03 414.40,192.08 414.60,189.43 414.80,188.20 415.00,189.33 415.20,187.09 415.40,188.74 415.60,192.31 415.80,189.18 416.00,191.80 416.20,189.04 416.40,188.20 416.60,188.38 416.80,191.84 417.00,188.88 417.20,191.99 417.40,188.59 417.60,192.25 417.80,188.63 418.00,192.16 418.20,188.80 418.40,191.77 418.60,188.68 418.80,192.09 419.00,188.71 419.20,191.80 419.40,189.11 419.60,191.93 419.80,188.23 420.00,191.57 420.20,188.38 420.40,191.71 420.60,188.91 420.80,192.06 421.00,187.57 421.20,192.10 421.40,188.54 421.60,191.81 421.80,188.83 422.00,191.64 422.20,188.63 422.40,191.74 422.60,188.24 422.80,187.72 423.00,189.18 423.20,187.53 423.40,186.75 423.60,191.95 423.80,187.32 424.00,191.50 424.20,188.66 424.40,192.00 424.60,188.73 424.80,188.68 425.00,188.89 425.20,191.63 425.40,188.53 425.60,186.19 425.80,189.24 426.00,192.17 426.20,188.77 426.40,191.77 426.60,188.63 426.80,192.02 427.00,189.26 427.20,193.02 427.40,188.73 427.60,192.01 427.80,188.75 428.00,191.82 428.20,188.74 428.40,192.24 428.60,189.55 428.80,191.72 429.00,188.87 429.20,192.40 429.40,189.25 429.60,188.30 429.80,188.81 430.00,192.52 430.20,188.86 430.40,191.92 430.60,189.34 430.80,188.24 431.00,189.04 431.20,192.01 431.40,186.88 431.60,186.98 431.80,188.83 432.00,192.24 432.20,188.51 432.40,192.16 432.60,188.80 432.80,191.80 433.00,188.76 433.20,191.98 433.40,189.13 433.60,191.86 433.80,189.08 434.00,192.13 434.20,189.22 434.40,191.92 434.60,189.25 434.80,191.78 435.00,186.77 435.20,191.90 435.40,188.99 435.60,191.34 435.80,188.80 436.00,188.49 436.20,188.61 436.40,191.51 436.60,187.02 436.80,191.96 437.00,189.58 437.20,192.55 437.40,187.77 437.60,191.85 437.80,189.24 438.00,192.16 438.20,188.51 438.40,192.40 438.60,188.71 438.80,192.06 439.00,188.95 439.20,192.34 439.40,189.54 439.60,191.81 439.80,193.50 440.00,191.93 440.20,189.18 440.40,192.19 440.60,187.77 440.80,192.65 441.00,189.52 441.20,188.47 441.40,189.56 441.60,187.56 441.80,189.23 442.00,192.06 442.20,187.43 442.40,191.67 442.60,186.87 442.80,192.52 443.00,189.00 443.20,192.35 443.40,189.32 443.60,192.23 443.80,189.94 444.00,193.05 444.20,189.92 444.40,192.90 444.60,189.77 444.80,192.50 445.00,189.71 445.20,192.08 445.40,188.41 445.60,192.88 445.80,189.34 446.00,188.78 446.20,193.50 446.40,192.19 446.60,193.50 446.80,192.16 447.00,187.91 447.20,188.50 447.40,189.76 447.60,192.00 447.80,189.74 448.00,192.10 448.20,189.21 448.40,192.63 448.60,189.57 448.80,191.85 449.00,188.92 449.20,187.62 449.40,189.14 449.60,188.33 449.80,193.08 450.00,192.81"/>
<path d="M234.50,187.21V20.10" stroke="#3a3a3a" stroke-width="1.0"/>
<path d="M235.50,187.47V80.79" stroke="#777" stroke-width="1.0"/>
<path d="M233.50,186.95V164.89" stroke="#606060" stroke-width="1.0"/>
<path d="M235.50,187.47V172.69" stroke="#606060" stroke-width="1.0"/>
<path d="M236.50,187.73V177.89" stroke="#606060" stroke-width="1.0"/>
<path d="M31.50,176.71V132.81" stroke="#606060" stroke-width="1.0"/>
<path d="M34.50,176.78V143.21" stroke="#606060" stroke-width="1.0"/>
<path d="M33.50,176.76V155.35" stroke="#606060" stroke-width="1.0"/>
<path d="M48.50,181.06V162.29" stroke="#606060" stroke-width="1.0"/>
<path d="M64.50,182.60V148.94" stroke="#606060" stroke-width="1.0"/>
<path d="M65.50,182.62V159.34" stroke="#606060" stroke-width="1.0"/>
<path d="M74.50,182.74V166.10" stroke="#606060" stroke-width="1.0"/>
<path d="M85.50,182.89V142.87" stroke="#606060" stroke-width="1.0"/>
<path d="M98.50,183.08V164.02" stroke="#606060" stroke-width="1.0"/>
<path d="M100.50,183.11V125.87" stroke="#606060" stroke-width="1.0"/>
<path d="M105.50,183.29V162.29" stroke="#606060" stroke-width="1.0"/>
<path d="M108.00,183.37V125.01" stroke="#555" stroke-width="1.0"/>
<path d="M108.50,183.39V146.68" stroke="#444" stroke-width="1.0"/>
<path d="M112.50,183.53V146.68" stroke="#606060" stroke-width="1.0"/>
<path d="M113.50,183.56V114.08" stroke="#606060" stroke-width="1.0"/>
<path d="M120.50,183.81V158.82" stroke="#606060" stroke-width="1.0"/>
<path d="M124.50,183.95V171.82" stroke="#606060" stroke-width="1.0"/>
<path d="M136.50,184.36V168.01" stroke="#606060" stroke-width="1.0"/>
<path d="M190.50,185.55V171.65" stroke="#606060" stroke-width="1.0"/>
<path d="M200.50,185.68V178.76" stroke="#606060" stroke-width="1.0"/>
<path d="M271.50,188.97V179.63" stroke="#606060" stroke-width="1.0"/>
<path d="M315.50,189.68V183.10" stroke="#606060" stroke-width="1.0"/>
<path d="M361.50,190.45V181.36" stroke="#606060" stroke-width="1.0"/>
<path d="M414.50,191.60V184.83" stroke="#606060" stroke-width="1.0"/>
<path d="M420.50,191.77V185.70" stroke="#606060" stroke-width="1.0"/>
<text x="233.30" y="19.20" font-size="6.6" font-family="'Liberation Sans', Arial, sans-serif" textLength="28.40" lengthAdjust="spacingAndGlyphs" fill="#000" stroke="#000" stroke-width="0.12">3351.5974</text>
<text x="31.40" y="130.80" font-size="6.6" font-family="'Liberation Sans', Arial, sans-serif" textLength="24.40" lengthAdjust="spacingAndGlyphs" fill="#000" stroke="#000" stroke-width="0.12">855.0034</text>
<text x="31.40" y="139.40" font-size="6.6" font-family="'Liberation Sans', Arial, sans-serif" textLength="24.40" lengthAdjust="spacingAndGlyphs" fill="#000" stroke="#000" stroke-width="0.12">861.0426</text>
<text x="33.30" y="154.50" font-size="6.6" font-family="'Liberation Sans', Arial, sans-serif" textLength="24.20" lengthAdjust="spacingAndGlyphs" fill="#000" stroke="#000" stroke-width="0.12">877.0129</text>
<text x="35.00" y="164.90" font-size="6.6" font-family="'Liberation Sans', Arial, sans-serif" textLength="25.10" lengthAdjust="spacingAndGlyphs" fill="#000" stroke="#000" stroke-width="0.12">913.4783</text>
<text x="40.20" y="173.50" font-size="6.6" font-family="'Liberation Sans', Arial, sans-serif" textLength="23.80" lengthAdjust="spacingAndGlyphs" fill="#000" stroke="#000" stroke-width="0.12">951.5027</text>
<text x="66.90" y="173.70" font-size="6.6" font-family="'Liberation Sans', Arial, sans-serif" textLength="29.00" lengthAdjust="spacingAndGlyphs" fill="#000" stroke="#000" stroke-width="0.12">1218.7153</text>
<text x="74.75" y="165.00" font-size="6.6" font-family="'Liberation Sans', Arial, sans-serif" textLength="27.50" lengthAdjust="spacingAndGlyphs" fill="#000" stroke="#000" stroke-width="0.12">1384.7735</text>
<text x="85.60" y="141.90" font-size="6.6" font-family="'Liberation Sans', Arial, sans-serif" textLength="27.90" lengthAdjust="spacingAndGlyphs" fill="#000" stroke="#000" stroke-width="0.12">1526.7627</text>
<text x="113.30" y="113.00" font-size="6.6" font-family="'Liberation Sans', Arial, sans-serif" textLength="27.50" lengthAdjust="spacingAndGlyphs" fill="#000" stroke="#000" stroke-width="0.12">1858.0045</text>
<text x="108.00" y="123.70" font-size="6.6" font-family="'Liberation Sans', Arial, sans-serif" textLength="27.80" lengthAdjust="spacingAndGlyphs" fill="#000" stroke="#000" stroke-width="0.12">1798.9909</text>
<text x="120.30" y="157.20" font-size="6.6" font-family="'Liberation Sans', Arial, sans-serif" textLength="27.70" lengthAdjust="spacingAndGlyphs" fill="#000" stroke="#000" stroke-width="0.12">1948.0764</text>
<text x="107.20" y="167.70" font-size="6.6" font-family="'Liberation Sans', Arial, sans-serif" textLength="27.70" lengthAdjust="spacingAndGlyphs" fill="#000" stroke="#000" stroke-width="0.12">1791.8393</text>
<text x="135.80" y="166.90" font-size="6.6" font-family="'Liberation Sans', Arial, sans-serif" textLength="28.40" lengthAdjust="spacingAndGlyphs" fill="#000" stroke="#000" stroke-width="0.12">2151.1898</text>
<text x="119.50" y="175.60" font-size="6.6" font-family="'Liberation Sans', Arial, sans-serif" textLength="28.50" lengthAdjust="spacingAndGlyphs" fill="#000" stroke="#000" stroke-width="0.12">1938.1392</text>
<text x="149.90" y="174.70" font-size="6.6" font-family="'Liberation Sans', Arial, sans-serif" textLength="28.10" lengthAdjust="spacingAndGlyphs" fill="#000" stroke="#000" stroke-width="0.12">2314.2625</text>
<text x="160.80" y="181.70" font-size="6.6" font-family="'Liberation Sans', Arial, sans-serif" textLength="26.00" lengthAdjust="spacingAndGlyphs" fill="#000" stroke="#000" stroke-width="0.12">2451.5650</text>
<text x="190.00" y="170.30" font-size="6.6" font-family="'Liberation Sans', Arial, sans-serif" textLength="28.30" lengthAdjust="spacingAndGlyphs" fill="#000" stroke="#000" stroke-width="0.12">2807.4154</text>
<text x="200.80" y="178.30" font-size="6.6" font-family="'Liberation Sans', Arial, sans-serif" textLength="28.40" lengthAdjust="spacingAndGlyphs" fill="#000" stroke="#000" stroke-width="0.12">2937.8292</text>
<text x="233.30" y="163.70" font-size="6.6" font-family="'Liberation Sans', Arial, sans-serif" textLength="26.70" lengthAdjust="spacingAndGlyphs" fill="#000" stroke="#000" stroke-width="0.12">3334.2331</text>
<text x="236.30" y="172.50" font-size="6.6" font-family="'Liberation Sans', Arial, sans-serif" textLength="27.90" lengthAdjust="spacingAndGlyphs" fill="#000" stroke="#000" stroke-width="0.12">3365.4823</text>
<text x="236.30" y="180.00" font-size="6.6" font-family="'Liberation Sans', Arial, sans-serif" textLength="27.90" lengthAdjust="spacingAndGlyphs" fill="#000" stroke="#000" stroke-width="0.12">3373.3912</text>
<text x="271.70" y="178.70" font-size="6.6" font-family="'Liberation Sans', Arial, sans-serif" textLength="27.00" lengthAdjust="spacingAndGlyphs" fill="#000" stroke="#000" stroke-width="0.12">3812.0021</text>
<text x="278.00" y="186.00" font-size="6.6" font-family="'Liberation Sans', Arial, sans-serif" textLength="27.00" lengthAdjust="spacingAndGlyphs" fill="#000" stroke="#000" stroke-width="0.12">4032.6649</text>
<text x="315.30" y="180.80" font-size="6.6" font-family="'Liberation Sans', Arial, sans-serif" textLength="27.70" lengthAdjust="spacingAndGlyphs" fill="#000" stroke="#000" stroke-width="0.12">4342.6222</text>
<text x="317.00" y="186.50" font-size="6.6" font-family="'Liberation Sans', Arial, sans-serif" textLength="27.00" lengthAdjust="spacingAndGlyphs" fill="#000" stroke="#000" stroke-width="0.12">4349.5880</text>
<text x="361.00" y="180.20" font-size="6.6" font-family="'Liberation Sans', Arial, sans-serif" textLength="28.20" lengthAdjust="spacingAndGlyphs" fill="#000" stroke="#000" stroke-width="0.12">4910.1071</text>
<text x="390.80" y="185.40" font-size="6.6" font-family="'Liberation Sans', Arial, sans-serif" textLength="27.20" lengthAdjust="spacingAndGlyphs" fill="#000" stroke="#000" stroke-width="0.12">5269.8087</text>
<text x="414.60" y="178.50" font-size="6.6" font-family="'Liberation Sans', Arial, sans-serif" textLength="28.40" lengthAdjust="spacingAndGlyphs" fill="#000" stroke="#000" stroke-width="0.12">5562.4522</text>
<text x="418.30" y="185.80" font-size="6.6" font-family="'Liberation Sans', Arial, sans-serif" textLength="30.20" lengthAdjust="spacingAndGlyphs" fill="#000" stroke="#000" stroke-width="0.12">5638.0841</text>
<path d="M30.50,252.50V431.00" stroke="#808080" stroke-width="1" fill="none"/>
<path d="M28.50,428.50H454.00" stroke="#909090" stroke-width="1" fill="none"/>
<path d="M455.50,253.00H454.00V431.00" stroke="#333" stroke-width="1" fill="none"/>
<path d="M28.00,428.50H30.50M29.00,419.50H30.50M28.00,410.50H30.50M29.00,402.50H30.50M28.00,393.50H30.50M29.00,384.50H30.50M28.00,375.50H30.50M29.00,367.50H30.50M28.00,358.50H30.50M29.00,349.50H30.50M28.00,340.50H30.50M29.00,331.50H30.50M28.00,323.50H30.50M29.00,314.50H30.50M28.00,305.50H30.50M29.00,296.50H30.50M28.00,288.50H30.50M29.00,279.50H30.50M28.00,270.50H30.50M29.00,261.50H30.50M28.00,252.50H30.50M30.50,428.50V431.00M72.50,428.50V430.50M115.50,428.50V431.00M157.50,428.50V430.50M199.50,428.50V431.00M242.50,428.50V430.50M284.50,428.50V431.00M326.50,428.50V430.50M369.50,428.50V431.00M411.50,428.50V430.50M454.50,428.50V431.00" stroke="#808080" stroke-width="1" fill="none"/>
<text x="24.20" y="431.00" font-size="6.9" font-family="'Liberation Sans', Arial, sans-serif" font-weight="bold" text-anchor="end" textLength="2.70" lengthAdjust="spacingAndGlyphs" stroke="#000" stroke-width="0.3">0</text>
<text x="24.20" y="413.45" font-size="6.9" font-family="'Liberation Sans', Arial, sans-serif" font-weight="bold" text-anchor="end" textLength="5.60" lengthAdjust="spacingAndGlyphs" stroke="#000" stroke-width="0.3">10</text>
<text x="24.20" y="395.90" font-size="6.9" font-family="'Liberation Sans', Arial, sans-serif" font-weight="bold" text-anchor="end" textLength="5.60" lengthAdjust="spacingAndGlyphs" stroke="#000" stroke-width="0.3">20</text>
<text x="24.20" y="378.35" font-size="6.9" font-family="'Liberation Sans', Arial, sans-serif" font-weight="bold" text-anchor="end" textLength="5.60" lengthAdjust="spacingAndGlyphs" stroke="#000" stroke-width="0.3">30</text>
<text x="24.20" y="360.80" font-size="6.9" font-family="'Liberation Sans', Arial, sans-serif" font-weight="bold" text-anchor="end" textLength="5.60" lengthAdjust="spacingAndGlyphs" stroke="#000" stroke-width="0.3">40</text>
<text x="24.20" y="343.25" font-size="6.9" font-family="'Liberation Sans', Arial, sans-serif" font-weight="bold" text-anchor="end" textLength="5.60" lengthAdjust="spacingAndGlyphs" stroke="#000" stroke-width="0.3">50</text>
<text x="24.20" y="325.70" font-size="6.9" font-family="'Liberation Sans', Arial, sans-serif" font-weight="bold" text-anchor="end" textLength="5.60" lengthAdjust="spacingAndGlyphs" stroke="#000" stroke-width="0.3">60</text>
<text x="24.20" y="308.15" font-size="6.9" font-family="'Liberation Sans', Arial, sans-serif" font-weight="bold" text-anchor="end" textLength="5.60" lengthAdjust="spacingAndGlyphs" stroke="#000" stroke-width="0.3">70</text>
<text x="24.20" y="290.60" font-size="6.9" font-family="'Liberation Sans', Arial, sans-serif" font-weight="bold" text-anchor="end" textLength="5.60" lengthAdjust="spacingAndGlyphs" stroke="#000" stroke-width="0.3">80</text>
<text x="24.20" y="273.05" font-size="6.9" font-family="'Liberation Sans', Arial, sans-serif" font-weight="bold" text-anchor="end" textLength="5.60" lengthAdjust="spacingAndGlyphs" stroke="#000" stroke-width="0.3">90</text>
<text x="24.20" y="255.50" font-size="6.9" font-family="'Liberation Sans', Arial, sans-serif" font-weight="bold" text-anchor="end" textLength="9.00" lengthAdjust="spacingAndGlyphs" stroke="#000" stroke-width="0.3">100</text>
<text x="30.00" y="439.90" font-size="6.9" font-family="'Liberation Sans', Arial, sans-serif" font-weight="bold" text-anchor="middle" textLength="14.60" lengthAdjust="spacingAndGlyphs" stroke="#000" stroke-width="0.3">844.0</text>
<text x="114.70" y="439.90" font-size="6.9" font-family="'Liberation Sans', Arial, sans-serif" font-weight="bold" text-anchor="middle" textLength="17.40" lengthAdjust="spacingAndGlyphs" stroke="#000" stroke-width="0.3">1875.4</text>
<text x="199.40" y="439.90" font-size="6.9" font-family="'Liberation Sans', Arial, sans-serif" font-weight="bold" text-anchor="middle" textLength="17.40" lengthAdjust="spacingAndGlyphs" stroke="#000" stroke-width="0.3">2906.8</text>
<text x="284.10" y="439.90" font-size="6.9" font-family="'Liberation Sans', Arial, sans-serif" font-weight="bold" text-anchor="middle" textLength="17.40" lengthAdjust="spacingAndGlyphs" stroke="#000" stroke-width="0.3">3938.2</text>
<text x="368.80" y="439.90" font-size="6.9" font-family="'Liberation Sans', Arial, sans-serif" font-weight="bold" text-anchor="middle" textLength="17.40" lengthAdjust="spacingAndGlyphs" stroke="#000" stroke-width="0.3">4969.6</text>
<text x="453.50" y="439.90" font-size="6.9" font-family="'Liberation Sans', Arial, sans-serif" font-weight="bold" text-anchor="middle" textLength="17.40" lengthAdjust="spacingAndGlyphs" stroke="#000" stroke-width="0.3">6001.0</text>
<text x="458.80" y="255.20" font-size="6.9" font-family="'Liberation Sans', Arial, sans-serif" font-weight="bold" textLength="18.30" lengthAdjust="spacingAndGlyphs" stroke="#000" stroke-width="0.3">8937.0</text>
<text x="459.00" y="430.70" font-size="6.9" font-family="'Liberation Sans', Arial, sans-serif" font-weight="bold" textLength="2.80" lengthAdjust="spacingAndGlyphs" stroke="#000" stroke-width="0.3">0</text>
<text x="2.10" y="251.70" font-size="13.7" font-family="'Liberation Serif', 'Times New Roman', serif" font-weight="bold" textLength="8.20" lengthAdjust="spacingAndGlyphs">B</text>
<text x="169.20" y="247.10" font-size="8.8" font-family="'Liberation Sans', Arial, sans-serif" font-weight="bold" textLength="140.90" lengthAdjust="spacingAndGlyphs">Voyager Spec #1[BP = 1550.5, 8937]</text>
<text x="8.10" y="367.75" font-size="11.4" font-family="'Liberation Serif', 'Times New Roman', serif" font-weight="bold" textLength="58.40" lengthAdjust="spacingAndGlyphs" transform="rotate(-90 8.1 367.75)">% Intensity</text>
<text x="211.00" y="453.50" font-size="11.4" font-family="'Liberation Serif', 'Times New Roman', serif" font-weight="bold" textLength="53.50" lengthAdjust="spacingAndGlyphs">Mass (m/z)</text>
<polyline fill="none" stroke="#000" stroke-width="0.75" stroke-linejoin="bevel" points="30.50,428.50 31.00,413.53 31.20,416.96 31.40,412.45 31.60,417.40 31.80,412.50 32.00,411.36 32.20,414.10 32.40,416.71 32.60,413.79 32.80,417.14 33.00,413.65 33.20,416.90 33.40,412.75 33.60,417.53 33.80,413.50 34.00,417.59 34.20,413.86 34.40,417.77 34.60,414.01 34.80,416.92 35.00,410.38 35.20,417.14 35.40,414.25 35.60,417.16 35.80,413.43 36.00,417.64 36.20,412.79 36.40,417.28 36.60,414.27 36.80,417.95 37.00,414.19 37.20,417.22 37.40,413.70 37.60,417.33 37.80,413.93 38.00,412.70 38.20,414.04 38.40,417.66 38.60,413.80 38.80,417.83 39.00,414.87 39.20,417.67 39.40,414.60 39.60,417.48 39.80,414.33 40.00,417.48 40.20,414.60 40.40,417.79 40.60,414.24 40.80,417.60 41.00,414.28 41.20,419.31 41.40,414.27 41.60,418.44 41.80,414.99 42.00,418.62 42.20,415.49 42.40,413.73 42.60,414.92 42.80,413.07 43.00,415.62 43.20,419.07 43.40,415.19 43.60,419.29 43.80,414.14 44.00,418.44 44.20,415.20 44.40,419.19 44.60,415.75 44.80,419.43 45.00,415.99 45.20,419.78 45.40,416.26 45.60,419.09 45.80,416.51 46.00,414.61 46.20,416.23 46.40,415.03 46.60,415.67 46.80,419.46 47.00,416.33 47.20,413.74 47.40,420.32 47.60,420.04 47.80,416.66 48.00,419.90 48.20,416.15 48.40,419.50 48.60,416.09 48.80,419.66 49.00,414.09 49.20,420.40 49.40,416.17 49.60,419.83 49.80,416.67 50.00,419.44 50.20,415.99 50.40,415.91 50.60,415.94 50.80,419.87 51.00,416.18 51.20,419.96 51.40,416.69 51.60,420.14 51.80,417.21 52.00,419.92 52.20,415.17 52.40,415.42 52.60,415.66 52.80,419.84 53.00,416.86 53.20,420.15 53.40,416.87 53.60,420.12 53.80,416.11 54.00,415.28 54.20,416.76 54.40,420.02 54.60,416.33 54.80,419.94 55.00,417.38 55.20,420.80 55.40,416.62 55.60,416.39 55.80,417.01 56.00,420.08 56.20,416.97 56.40,420.50 56.60,417.19 56.80,420.53 57.00,421.66 57.20,420.84 57.40,417.09 57.60,420.88 57.80,417.29 58.00,421.06 58.20,417.28 58.40,420.30 58.60,414.14 58.80,421.15 59.00,417.82 59.20,420.46 59.40,417.03 59.60,415.64 59.80,417.25 60.00,421.14 60.20,417.18 60.40,420.73 60.60,417.30 60.80,421.14 61.00,417.96 61.20,421.22 61.40,417.50 61.60,420.99 61.80,417.53 62.00,421.29 62.20,417.95 62.40,416.65 62.60,416.03 62.80,420.60 63.00,417.39 63.20,420.94 63.40,417.44 63.60,420.56 63.80,415.23 64.00,421.49 64.20,418.18 64.40,420.82 64.60,417.75 64.80,415.88 65.00,418.25 65.20,421.66 65.40,418.40 65.60,420.76 65.80,417.26 66.00,420.98 66.20,417.95 66.40,420.65 66.60,421.52 66.80,420.80 67.00,417.34 67.20,417.04 67.40,417.88 67.60,420.85 67.80,417.76 68.00,420.92 68.20,417.16 68.40,421.42 68.60,417.69 68.80,414.40 69.00,416.24 69.20,417.20 69.40,417.22 69.60,416.67 69.80,417.60 70.00,422.27 70.20,417.69 70.40,421.41 70.60,417.54 70.80,421.01 71.00,417.66 71.20,420.92 71.40,417.85 71.60,415.87 71.80,417.41 72.00,421.22 72.20,417.73 72.40,420.73 72.60,417.37 72.80,420.71 73.00,417.35 73.20,421.40 73.40,418.12 73.60,421.46 73.80,417.16 74.00,420.88 74.20,417.84 74.40,421.60 74.60,418.12 74.80,421.66 75.00,417.67 75.20,420.91 75.40,417.43 75.60,421.07 75.80,417.00 76.00,420.84 76.20,421.97 76.40,420.61 76.60,417.52 76.80,421.52 77.00,418.22 77.20,421.54 77.40,417.99 77.60,421.26 77.80,418.22 78.00,421.60 78.20,418.23 78.40,421.83 78.60,418.57 78.80,421.51 79.00,417.83 79.20,421.93 79.40,418.04 79.60,421.49 79.80,416.08 80.00,421.53 80.20,418.17 80.40,421.39 80.60,418.18 80.80,422.20 81.00,417.33 81.20,422.21 81.40,414.51 81.60,421.48 81.80,422.06 82.00,422.19 82.20,418.87 82.40,422.43 82.60,414.53 82.80,421.71 83.00,416.86 83.20,421.89 83.40,418.27 83.60,416.68 83.80,416.99 84.00,422.30 84.20,417.93 84.40,415.91 84.60,418.45 84.80,421.61 85.00,418.07 85.20,421.75 85.40,418.61 85.60,421.56 85.80,418.96 86.00,422.54 86.20,418.44 86.40,422.63 86.60,419.01 86.80,421.97 87.00,418.50 87.20,422.04 87.40,418.47 87.60,421.98 87.80,418.66 88.00,421.76 88.20,419.08 88.40,423.09 88.60,418.58 88.80,416.78 89.00,418.80 89.20,422.37 89.40,418.83 89.60,422.20 89.80,422.92 90.00,422.74 90.20,418.72 90.40,421.65 90.60,418.54 90.80,423.41 91.00,418.88 91.20,421.81 91.40,418.67 91.60,422.19 91.80,418.15 92.00,421.96 92.20,419.48 92.40,422.48 92.60,419.60 92.80,418.73 93.00,419.20 93.20,422.48 93.40,419.10 93.60,422.10 93.80,419.61 94.00,422.89 94.20,419.68 94.40,422.33 94.60,417.10 94.80,422.74 95.00,419.90 95.20,423.17 95.40,419.75 95.60,423.27 95.80,420.48 96.00,422.76 96.20,420.41 96.40,423.22 96.60,420.17 96.80,424.27 97.00,420.06 97.20,423.38 97.40,418.19 97.60,422.93 97.80,420.33 98.00,423.25 98.20,420.24 98.40,422.81 98.60,420.44 98.80,423.13 99.00,420.24 99.20,422.67 99.40,420.35 99.60,419.68 99.80,419.92 100.00,423.10 100.20,420.43 100.40,418.48 100.60,420.44 100.80,422.74 101.00,420.21 101.20,423.06 101.40,420.69 101.60,422.65 101.80,420.20 102.00,422.83 102.20,420.71 102.40,423.14 102.60,420.60 102.80,423.04 103.00,420.30 103.20,423.60 103.40,420.88 103.60,423.66 103.80,420.50 104.00,423.27 104.20,421.04 104.40,423.39 104.60,420.92 104.80,423.96 105.00,420.08 105.20,423.82 105.40,421.13 105.60,423.78 105.80,424.07 106.00,423.14 106.20,421.15 106.40,424.96 106.60,421.04 106.80,423.71 107.00,420.63 107.20,423.46 107.40,419.77 107.60,423.79 107.80,420.13 108.00,420.42 108.20,420.95 108.40,422.95 108.60,421.02 108.80,423.24 109.00,420.62 109.20,423.61 109.40,420.83 109.60,423.11 109.80,420.89 110.00,420.33 110.20,420.96 110.40,423.45 110.60,420.85 110.80,423.48 111.00,421.10 111.20,423.81 111.40,420.69 111.60,423.50 111.80,421.09 112.00,424.13 112.20,421.43 112.40,423.51 112.60,421.00 112.80,423.99 113.00,420.99 113.20,424.13 113.40,421.48 113.60,423.99 113.80,421.51 114.00,420.44 114.20,421.52 114.40,423.82 114.60,421.16 114.80,423.66 115.00,420.95 115.20,423.60 115.40,421.02 115.60,419.25 115.80,421.40 116.00,423.53 116.20,421.05 116.40,423.82 116.60,420.11 116.80,423.58 117.00,421.06 117.20,423.50 117.40,420.86 117.60,423.38 117.80,419.74 118.00,423.39 118.20,421.43 118.40,423.53 118.60,421.27 118.80,423.64 119.00,421.48 119.20,420.27 119.40,421.58 119.60,424.08 119.80,421.45 120.00,424.31 120.20,421.31 120.40,423.97 120.60,420.63 120.80,424.07 121.00,421.73 121.20,424.31 121.40,421.76 121.60,424.49 121.80,424.53 122.00,424.62 122.20,421.77 122.40,424.35 122.60,421.89 122.80,423.99 123.00,421.67 123.20,424.13 123.40,421.37 123.60,424.13 123.80,421.08 124.00,420.61 124.20,421.59 124.40,423.47 124.60,420.12 124.80,423.87 125.00,421.19 125.20,423.72 125.40,421.20 125.60,423.38 125.80,421.24 126.00,423.34 126.20,421.22 126.40,423.53 126.60,420.86 126.80,423.91 127.00,420.20 127.20,423.52 127.40,420.65 127.60,423.86 127.80,420.90 128.00,423.78 128.20,421.34 128.40,424.03 128.60,421.19 128.80,424.08 129.00,421.50 129.20,423.90 129.40,421.31 129.60,424.30 129.80,421.86 130.00,424.30 130.20,421.94 130.40,424.33 130.60,421.43 130.80,420.45 131.00,421.72 131.20,424.41 131.40,421.98 131.60,423.98 131.80,422.06 132.00,424.52 132.20,421.40 132.40,424.36 132.60,421.56 132.80,424.37 133.00,419.79 133.20,424.35 133.40,420.60 133.60,423.81 133.80,421.55 134.00,424.09 134.20,421.25 134.40,420.86 134.60,421.29 134.80,424.38 135.00,421.96 135.20,424.32 135.40,421.36 135.60,424.40 135.80,421.23 136.00,423.69 136.20,421.18 136.40,423.86 136.60,421.65 136.80,423.50 137.00,421.32 137.20,424.01 137.40,421.52 137.60,423.84 137.80,421.47 138.00,424.25 138.20,420.59 138.40,420.18 138.60,422.00 138.80,424.27 139.00,421.80 139.20,423.69 139.40,421.36 139.60,423.74 139.80,421.68 140.00,420.84 140.20,421.87 140.40,423.93 140.60,421.92 140.80,424.25 141.00,425.02 141.20,424.56 141.40,421.73 141.60,424.84 141.80,421.92 142.00,424.99 142.20,421.77 142.40,424.12 142.60,425.68 142.80,419.77 143.00,421.55 143.20,424.44 143.40,421.45 143.60,424.11 143.80,421.39 144.00,424.53 144.20,422.05 144.40,424.47 144.60,421.58 144.80,424.26 145.00,421.57 145.20,424.53 145.40,422.03 145.60,424.52 145.80,421.74 146.00,423.89 146.20,421.70 146.40,424.36 146.60,421.74 146.80,424.38 147.00,421.64 147.20,424.10 147.40,421.57 147.60,424.12 147.80,421.77 148.00,424.11 148.20,422.16 148.40,424.62 148.60,422.21 148.80,424.17 149.00,422.08 149.20,424.77 149.40,421.62 149.60,424.56 149.80,422.14 150.00,424.51 150.20,421.91 150.40,424.61 150.60,422.03 150.80,420.78 151.00,424.92 151.20,424.57 151.40,422.04 151.60,424.70 151.80,424.89 152.00,424.78 152.20,421.88 152.40,424.64 152.60,420.09 152.80,424.65 153.00,421.84 153.20,424.68 153.40,421.79 153.60,425.15 153.80,421.11 154.00,424.10 154.20,424.83 154.40,419.94 154.60,422.11 154.80,424.97 155.00,425.91 155.20,424.37 155.40,421.76 155.60,424.14 155.80,422.14 156.00,424.60 156.20,422.06 156.40,424.30 156.60,421.82 156.80,424.34 157.00,422.29 157.20,424.34 157.40,421.96 157.60,424.60 157.80,421.90 158.00,421.57 158.20,422.13 158.40,419.84 158.60,421.72 158.80,424.84 159.00,421.00 159.20,420.95 159.40,422.20 159.60,424.82 159.80,422.00 160.00,425.41 160.20,421.04 160.40,424.91 160.60,422.36 160.80,424.62 161.00,422.48 161.20,424.38 161.40,421.36 161.60,424.46 161.80,422.31 162.00,424.20 162.20,422.27 162.40,424.64 162.60,422.18 162.80,424.32 163.00,422.48 163.20,424.43 163.40,422.04 163.60,424.86 163.80,422.05 164.00,420.82 164.20,422.07 164.40,421.87 164.60,421.96 164.80,424.77 165.00,422.51 165.20,424.87 165.40,422.20 165.60,424.33 165.80,422.05 166.00,424.21 166.20,422.26 166.40,424.44 166.60,422.16 166.80,424.74 167.00,421.29 167.20,424.71 167.40,425.12 167.60,424.89 167.80,422.46 168.00,424.40 168.20,422.59 168.40,424.82 168.60,425.16 168.80,420.38 169.00,422.16 169.20,424.54 169.40,422.29 169.60,424.49 169.80,422.47 170.00,424.65 170.20,422.48 170.40,424.59 170.60,422.59 170.80,424.89 171.00,422.52 171.20,424.91 171.40,422.52 171.60,424.82 171.80,422.57 172.00,420.55 172.20,423.15 172.40,425.17 172.60,422.96 172.80,425.19 173.00,422.50 173.20,424.97 173.40,422.74 173.60,425.00 173.80,422.63 174.00,422.24 174.20,422.89 174.40,420.68 174.60,422.86 174.80,424.69 175.00,422.88 175.20,424.86 175.40,422.64 175.60,425.18 175.80,423.03 176.00,424.88 176.20,422.95 176.40,425.23 176.60,423.12 176.80,422.31 177.00,423.28 177.20,425.53 177.40,423.16 177.60,425.37 177.80,423.33 178.00,424.98 178.20,422.57 178.40,425.36 178.60,423.33 178.80,425.49 179.00,423.22 179.20,425.37 179.40,423.25 179.60,422.64 179.80,425.39 180.00,424.96 180.20,423.07 180.40,425.09 180.60,422.87 180.80,425.03 181.00,420.99 181.20,424.71 181.40,422.43 181.60,425.04 181.80,423.06 182.00,424.92 182.20,423.06 182.40,424.57 182.60,426.36 182.80,424.67 183.00,422.73 183.20,424.99 183.40,422.62 183.60,424.84 183.80,422.81 184.00,425.03 184.20,421.04 184.40,422.57 184.60,422.73 184.80,425.93 185.00,423.14 185.20,424.91 185.40,422.96 185.60,425.12 185.80,423.14 186.00,425.26 186.20,423.25 186.40,425.13 186.60,422.95 186.80,425.28 187.00,423.25 187.20,425.20 187.40,423.26 187.60,425.05 187.80,423.08 188.00,422.69 188.20,423.51 188.40,425.37 188.60,423.64 188.80,425.42 189.00,423.59 189.20,425.38 189.40,423.39 189.60,425.48 189.80,423.30 190.00,425.69 190.20,423.73 190.40,425.29 190.60,423.36 190.80,425.44 191.00,423.76 191.20,425.31 191.40,423.54 191.60,425.37 191.80,423.57 192.00,425.60 192.20,423.05 192.40,425.04 192.60,426.07 192.80,425.45 193.00,421.68 193.20,425.39 193.40,422.14 193.60,424.93 193.80,423.41 194.00,425.11 194.20,423.22 194.40,425.42 194.60,423.37 194.80,424.88 195.00,421.22 195.20,425.34 195.40,422.76 195.60,422.64 195.80,421.68 196.00,424.81 196.20,423.07 196.40,425.21 196.60,423.07 196.80,421.25 197.00,423.31 197.20,425.33 197.40,422.93 197.60,424.99 197.80,423.20 198.00,424.89 198.20,421.97 198.40,425.84 198.60,423.17 198.80,425.11 199.00,422.80 199.20,425.00 199.40,423.27 199.60,425.44 199.80,423.42 200.00,425.05 200.20,423.16 200.40,425.33 200.60,423.21 200.80,425.13 201.00,423.53 201.20,425.06 201.40,423.12 201.60,425.21 201.80,423.18 202.00,425.68 202.20,423.00 202.40,425.56 202.60,423.45 202.80,421.62 203.00,422.73 203.20,425.18 203.40,423.09 203.60,425.34 203.80,422.60 204.00,425.15 204.20,423.24 204.40,425.17 204.60,423.04 204.80,421.38 205.00,423.26 205.20,425.35 205.40,423.25 205.60,424.94 205.80,422.84 206.00,425.25 206.20,422.49 206.40,425.51 206.60,422.82 206.80,425.22 207.00,423.41 207.20,425.26 207.40,423.18 207.60,425.23 207.80,423.35 208.00,425.05 208.20,423.36 208.40,424.93 208.60,423.52 208.80,422.92 209.00,425.91 209.20,425.58 209.40,423.70 209.60,425.31 209.80,423.21 210.00,425.91 210.20,421.47 210.40,425.67 210.60,423.50 210.80,425.51 211.00,423.16 211.20,424.98 211.40,423.02 211.60,425.22 211.80,423.41 212.00,425.45 212.20,423.11 212.40,425.52 212.60,423.21 212.80,425.30 213.00,423.06 213.20,425.41 213.40,423.46 213.60,421.84 213.80,423.20 214.00,425.18 214.20,422.91 214.40,425.48 214.60,423.44 214.80,422.60 215.00,423.26 215.20,422.92 215.40,423.15 215.60,425.32 215.80,423.49 216.00,425.45 216.20,423.66 216.40,425.52 216.60,422.89 216.80,425.30 217.00,423.41 217.20,425.43 217.40,423.35 217.60,425.57 217.80,423.48 218.00,425.30 218.20,425.96 218.40,425.33 218.60,423.57 218.80,425.49 219.00,425.83 219.20,422.13 219.40,423.65 219.60,425.53 219.80,423.46 220.00,425.46 220.20,423.54 220.40,425.33 220.60,423.80 220.80,422.75 221.00,423.36 221.20,425.72 221.40,423.73 221.60,425.34 221.80,423.75 222.00,425.63 222.20,423.47 222.40,425.73 222.60,423.75 222.80,425.76 223.00,423.80 223.20,422.93 223.40,423.60 223.60,421.95 223.80,423.33 224.00,425.17 224.20,422.25 224.40,425.46 224.60,423.30 224.80,425.05 225.00,426.43 225.20,425.96 225.40,423.66 225.60,425.70 225.80,423.70 226.00,425.72 226.20,423.52 226.40,425.58 226.60,423.79 226.80,425.37 227.00,423.71 227.20,425.14 227.40,423.43 227.60,425.22 227.80,422.51 228.00,422.73 228.20,423.53 228.40,425.86 228.60,423.99 228.80,426.07 229.00,423.94 229.20,423.31 229.40,425.98 229.60,422.49 229.80,424.19 230.00,425.72 230.20,423.86 230.40,425.52 230.60,423.36 230.80,425.74 231.00,424.00 231.20,425.97 231.40,423.73 231.60,425.98 231.80,423.66 232.00,425.79 232.20,424.12 232.40,423.15 232.60,426.32 232.80,426.16 233.00,423.85 233.20,426.11 233.40,424.01 233.60,426.09 233.80,423.76 234.00,426.17 234.20,423.96 234.40,423.06 234.60,423.99 234.80,426.04 235.00,424.25 235.20,426.22 235.40,422.96 235.60,426.13 235.80,423.99 236.00,422.41 236.20,423.85 236.40,425.88 236.60,424.35 236.80,425.89 237.00,423.74 237.20,425.83 237.40,423.97 237.60,425.49 237.80,423.75 238.00,425.63 238.20,423.97 238.40,425.55 238.60,423.58 238.80,425.75 239.00,426.15 239.20,425.36 239.40,423.63 239.60,425.29 239.80,422.51 240.00,425.67 240.20,423.86 240.40,425.77 240.60,423.87 240.80,425.68 241.00,423.59 241.20,425.75 241.40,426.21 241.60,426.09 241.80,424.06 242.00,425.68 242.20,423.97 242.40,425.95 242.60,426.15 242.80,426.37 243.00,422.05 243.20,426.23 243.40,426.26 243.60,425.86 243.80,424.31 244.00,425.89 244.20,424.20 244.40,426.47 244.60,423.19 244.80,426.28 245.00,424.13 245.20,426.12 245.40,424.37 245.60,425.97 245.80,426.15 246.00,426.17 246.20,424.11 246.40,426.23 246.60,424.20 246.80,426.13 247.00,423.26 247.20,425.81 247.40,426.20 247.60,425.73 247.80,424.22 248.00,423.43 248.20,423.85 248.40,425.77 248.60,424.22 248.80,425.87 249.00,424.31 249.20,423.17 249.40,424.12 249.60,425.94 249.80,423.88 250.00,426.42 250.20,424.21 250.40,426.01 250.60,422.27 250.80,426.08 251.00,423.95 251.20,425.83 251.40,424.20 251.60,425.75 251.80,424.47 252.00,426.13 252.20,424.40 252.40,426.02 252.60,424.11 252.80,426.14 253.00,424.36 253.20,426.13 253.40,422.36 253.60,426.03 253.80,424.61 254.00,426.29 254.20,424.28 254.40,426.22 254.60,424.24 254.80,426.19 255.00,424.26 255.20,425.98 255.40,423.66 255.60,426.39 255.80,424.57 256.00,426.52 256.20,424.67 256.40,426.25 256.60,422.83 256.80,422.45 257.00,423.65 257.20,426.36 257.40,424.31 257.60,426.29 257.80,424.54 258.00,426.34 258.20,423.73 258.40,423.77 258.60,424.50 258.80,425.88 259.00,424.48 259.20,423.36 259.40,424.55 259.60,426.10 259.80,424.31 260.00,426.39 260.20,424.21 260.40,426.31 260.60,423.47 260.80,426.23 261.00,424.36 261.20,426.26 261.40,423.77 261.60,426.24 261.80,424.40 262.00,423.84 262.20,423.95 262.40,423.85 262.60,424.54 262.80,426.00 263.00,424.36 263.20,426.07 263.40,424.56 263.60,422.65 263.80,424.72 264.00,426.31 264.20,424.88 264.40,426.24 264.60,424.62 264.80,426.60 265.00,422.69 265.20,426.67 265.40,424.84 265.60,426.66 265.80,424.96 266.00,426.38 266.20,424.75 266.40,426.46 266.60,424.73 266.80,426.75 267.00,424.66 267.20,426.36 267.40,424.68 267.60,426.59 267.80,424.75 268.00,426.41 268.20,424.58 268.40,426.58 268.60,424.93 268.80,426.76 269.00,425.06 269.20,426.55 269.40,425.05 269.60,426.42 269.80,424.72 270.00,426.55 270.20,424.70 270.40,423.95 270.60,424.91 270.80,426.23 271.00,424.51 271.20,426.49 271.40,424.64 271.60,426.41 271.80,422.93 272.00,426.50 272.20,424.49 272.40,426.46 272.60,424.44 272.80,426.11 273.00,424.75 273.20,426.36 273.40,424.56 273.60,426.02 273.80,424.39 274.00,426.10 274.20,424.40 274.40,423.43 274.60,424.79 274.80,426.18 275.00,424.35 275.20,426.81 275.40,424.87 275.60,426.39 275.80,424.56 276.00,426.62 276.20,424.95 276.40,426.39 276.60,423.48 276.80,426.57 277.00,424.64 277.20,423.37 277.40,425.11 277.60,424.25 277.80,424.81 278.00,423.07 278.20,425.01 278.40,423.09 278.60,425.08 278.80,426.56 279.00,425.21 279.20,423.25 279.40,424.77 279.60,426.86 279.80,424.33 280.00,426.82 280.20,425.21 280.40,426.74 280.60,425.17 280.80,426.46 281.00,425.16 281.20,426.47 281.40,424.90 281.60,426.44 281.80,425.05 282.00,426.63 282.20,424.85 282.40,426.36 282.60,424.71 282.80,424.51 283.00,424.53 283.20,426.69 283.40,425.07 283.60,426.56 283.80,425.06 284.00,423.25 284.20,424.91 284.40,426.65 284.60,424.67 284.80,426.73 285.00,424.96 285.20,426.46 285.40,424.83 285.60,426.71 285.80,424.85 286.00,426.60 286.20,425.06 286.40,423.32 286.60,424.39 286.80,426.69 287.00,425.05 287.20,426.61 287.40,425.03 287.60,426.60 287.80,425.00 288.00,426.35 288.20,426.78 288.40,426.28 288.60,424.89 288.80,424.44 289.00,424.93 289.20,426.45 289.40,424.68 289.60,426.76 289.80,424.83 290.00,426.52 290.20,424.75 290.40,426.74 290.60,424.86 290.80,426.71 291.00,425.05 291.20,426.69 291.40,425.18 291.60,427.04 291.80,425.10 292.00,426.73 292.20,425.25 292.40,426.57 292.60,425.20 292.80,426.81 293.00,425.36 293.20,426.67 293.40,426.94 293.60,426.74 293.80,425.20 294.00,426.74 294.20,425.00 294.40,426.57 294.60,425.03 294.80,426.58 295.00,425.30 295.20,426.73 295.40,423.71 295.60,426.84 295.80,427.30 296.00,426.61 296.20,425.13 296.40,426.48 296.60,426.89 296.80,426.53 297.00,424.91 297.20,426.56 297.40,425.18 297.60,426.68 297.80,424.98 298.00,426.79 298.20,425.35 298.40,424.55 298.60,425.25 298.80,427.04 299.00,427.28 299.20,426.61 299.40,425.22 299.60,426.72 299.80,425.42 300.00,427.16 300.20,425.27 300.40,424.74 300.60,425.03 300.80,426.49 301.00,425.24 301.20,426.53 301.40,425.44 301.60,426.92 301.80,425.20 302.00,426.68 302.20,425.29 302.40,426.64 302.60,425.28 302.80,426.70 303.00,425.35 303.20,424.99 303.40,425.15 303.60,426.55 303.80,425.33 304.00,426.57 304.20,425.15 304.40,426.72 304.60,424.96 304.80,426.58 305.00,425.28 305.20,426.88 305.40,425.49 305.60,426.74 305.80,425.26 306.00,426.87 306.20,427.00 306.40,426.69 306.60,424.89 306.80,426.70 307.00,425.47 307.20,426.68 307.40,425.15 307.60,426.69 307.80,424.27 308.00,423.91 308.20,427.05 308.40,427.11 308.60,425.49 308.80,426.84 309.00,425.47 309.20,426.75 309.40,425.43 309.60,427.00 309.80,425.59 310.00,426.76 310.20,427.54 310.40,426.63 310.60,425.28 310.80,424.64 311.00,425.30 311.20,427.12 311.40,425.74 311.60,426.88 311.80,425.44 312.00,426.96 312.20,425.66 312.40,426.90 312.60,425.57 312.80,424.62 313.00,425.55 313.20,426.75 313.40,425.58 313.60,427.00 313.80,425.42 314.00,427.12 314.20,425.48 314.40,426.91 314.60,425.64 314.80,426.75 315.00,425.37 315.20,426.91 315.40,425.59 315.60,426.86 315.80,425.41 316.00,426.76 316.20,425.58 316.40,426.83 316.60,425.39 316.80,426.74 317.00,425.46 317.20,427.08 317.40,425.44 317.60,426.94 317.80,425.49 318.00,426.70 318.20,425.17 318.40,426.93 318.60,425.21 318.80,426.82 319.00,425.31 319.20,426.77 319.40,425.46 319.60,426.81 319.80,425.51 320.00,426.99 320.20,427.30 320.40,426.68 320.60,425.57 320.80,427.05 321.00,425.42 321.20,427.04 321.40,425.54 321.60,426.73 321.80,425.32 322.00,427.21 322.20,425.28 322.40,426.95 322.60,425.07 322.80,427.38 323.00,425.44 323.20,426.98 323.40,425.49 323.60,424.02 323.80,425.28 324.00,426.90 324.20,425.36 324.40,426.99 324.60,425.35 324.80,426.70 325.00,425.28 325.20,424.42 325.40,425.31 325.60,426.83 325.80,425.49 326.00,426.83 326.20,425.50 326.40,426.90 326.60,425.68 326.80,426.89 327.00,425.72 327.20,426.83 327.40,425.62 327.60,427.04 327.80,425.76 328.00,424.15 328.20,425.84 328.40,426.96 328.60,425.10 328.80,426.98 329.00,425.58 329.20,427.05 329.40,424.80 329.60,427.27 329.80,425.72 330.00,426.84 330.20,425.55 330.40,426.86 330.60,427.10 330.80,426.97 331.00,425.35 331.20,426.97 331.40,425.45 331.60,427.11 331.80,425.48 332.00,427.11 332.20,425.30 332.40,426.87 332.60,424.83 332.80,424.46 333.00,425.32 333.20,427.16 333.40,425.28 333.60,426.98 333.80,425.16 334.00,424.03 334.20,425.22 334.40,426.93 334.60,425.34 334.80,426.77 335.00,425.46 335.20,425.23 335.40,425.39 335.60,426.90 335.80,425.31 336.00,426.90 336.20,425.24 336.40,426.92 336.60,427.79 336.80,426.67 337.00,425.18 337.20,426.85 337.40,425.16 337.60,426.72 337.80,425.45 338.00,426.68 338.20,425.13 338.40,426.66 338.60,425.44 338.80,426.87 339.00,425.38 339.20,426.91 339.40,427.16 339.60,426.77 339.80,425.26 340.00,426.71 340.20,425.17 340.40,426.81 340.60,425.26 340.80,426.81 341.00,425.61 341.20,424.69 341.40,425.49 341.60,426.72 341.80,425.29 342.00,426.87 342.20,425.47 342.40,426.76 342.60,425.36 342.80,426.77 343.00,425.56 343.20,426.83 343.40,425.59 343.60,426.90 343.80,425.40 344.00,426.78 344.20,424.43 344.40,426.71 344.60,425.54 344.80,426.86 345.00,425.39 345.20,425.06 345.40,425.21 345.60,424.22 345.80,425.23 346.00,426.68 346.20,425.54 346.40,426.85 346.60,425.46 346.80,426.71 347.00,424.76 347.20,426.82 347.40,425.11 347.60,426.77 347.80,425.51 348.00,426.96 348.20,425.69 348.40,427.04 348.60,425.61 348.80,427.18 349.00,427.29 349.20,424.17 349.40,424.81 349.60,427.03 349.80,425.56 350.00,427.27 350.20,425.79 350.40,427.35 350.60,425.59 350.80,426.97 351.00,425.79 351.20,426.90 351.40,425.98 351.60,427.31 351.80,425.58 352.00,427.22 352.20,424.97 352.40,427.20 352.60,425.65 352.80,427.13 353.00,425.76 353.20,427.04 353.40,424.92 353.60,427.01 353.80,425.86 354.00,427.14 354.20,425.55 354.40,427.27 354.60,425.66 354.80,427.04 355.00,425.72 355.20,426.75 355.40,425.40 355.60,426.93 355.80,425.57 356.00,426.82 356.20,425.45 356.40,426.84 356.60,425.54 356.80,426.93 357.00,425.58 357.20,426.88 357.40,425.67 357.60,426.81 357.80,425.46 358.00,425.15 358.20,425.65 358.40,425.14 358.60,425.76 358.80,427.00 359.00,425.53 359.20,426.84 359.40,425.67 359.60,427.01 359.80,425.68 360.00,426.95 360.20,425.74 360.40,425.04 360.60,425.66 360.80,427.19 361.00,425.91 361.20,424.95 361.40,427.34 361.60,427.43 361.80,425.84 362.00,427.14 362.20,425.50 362.40,427.53 362.60,425.90 362.80,427.21 363.00,425.69 363.20,424.98 363.40,425.84 363.60,427.59 363.80,426.07 364.00,427.34 364.20,425.83 364.40,427.32 364.60,425.92 364.80,427.05 365.00,425.98 365.20,427.20 365.40,425.85 365.60,427.39 365.80,426.10 366.00,427.43 366.20,425.86 366.40,425.35 366.60,426.16 366.80,427.38 367.00,426.13 367.20,425.47 367.40,425.99 367.60,425.25 367.80,425.94 368.00,427.00 368.20,425.65 368.40,427.14 368.60,425.89 368.80,426.99 369.00,425.67 369.20,427.17 369.40,425.70 369.60,427.17 369.80,424.98 370.00,427.08 370.20,425.58 370.40,425.05 370.60,427.55 370.80,426.87 371.00,425.81 371.20,427.09 371.40,425.00 371.60,426.99 371.80,425.00 372.00,424.86 372.20,425.55 372.40,424.48 372.60,425.90 372.80,425.39 373.00,425.81 373.20,427.06 373.40,424.37 373.60,427.07 373.80,425.89 374.00,427.15 374.20,425.89 374.40,427.23 374.60,424.87 374.80,425.32 375.00,425.52 375.20,427.03 375.40,425.61 375.60,427.14 375.80,425.48 376.00,424.76 376.20,425.58 376.40,427.05 376.60,425.71 376.80,427.27 377.00,425.91 377.20,427.23 377.40,425.80 377.60,427.28 377.80,426.01 378.00,427.41 378.20,426.05 378.40,427.19 378.60,425.65 378.80,427.32 379.00,425.90 379.20,427.36 379.40,425.87 379.60,427.24 379.80,425.69 380.00,427.11 380.20,425.94 380.40,427.19 380.60,425.99 380.80,427.20 381.00,425.94 381.20,427.39 381.40,425.04 381.60,427.34 381.80,424.91 382.00,427.45 382.20,427.72 382.40,426.93 382.60,425.59 382.80,424.53 383.00,425.60 383.20,427.24 383.40,425.77 383.60,427.08 383.80,424.73 384.00,427.11 384.20,426.00 384.40,427.23 384.60,425.94 384.80,427.27 385.00,426.01 385.20,427.40 385.40,425.23 385.60,427.23 385.80,425.66 386.00,427.00 386.20,424.94 386.40,426.95 386.60,425.61 386.80,427.12 387.00,425.85 387.20,425.51 387.40,425.50 387.60,427.19 387.80,425.44 388.00,426.99 388.20,425.96 388.40,427.34 388.60,425.95 388.80,427.39 389.00,425.34 389.20,427.11 389.40,425.78 389.60,425.46 389.80,425.71 390.00,425.31 390.20,425.41 390.40,427.04 390.60,425.89 390.80,425.23 391.00,425.84 391.20,427.09 391.40,425.93 391.60,427.09 391.80,425.77 392.00,427.23 392.20,425.90 392.40,427.42 392.60,426.04 392.80,427.27 393.00,425.78 393.20,427.14 393.40,425.87 393.60,427.20 393.80,425.80 394.00,424.85 394.20,425.79 394.40,427.21 394.60,425.78 394.80,426.85 395.00,425.83 395.20,427.11 395.40,425.65 395.60,427.07 395.80,425.97 396.00,424.42 396.20,425.70 396.40,427.16 396.60,425.65 396.80,427.17 397.00,425.92 397.20,427.36 397.40,426.02 397.60,427.05 397.80,425.97 398.00,427.38 398.20,424.99 398.40,427.35 398.60,424.84 398.80,427.28 399.00,426.09 399.20,427.09 399.40,425.99 399.60,427.09 399.80,425.81 400.00,427.08 400.20,425.80 400.40,427.36 400.60,425.91 400.80,427.33 401.00,424.42 401.20,427.34 401.40,425.84 401.60,427.17 401.80,425.77 402.00,425.56 402.20,425.64 402.40,427.24 402.60,425.97 402.80,427.26 403.00,425.83 403.20,427.27 403.40,425.70 403.60,424.43 403.80,425.76 404.00,427.00 404.20,425.91 404.40,427.14 404.60,425.73 404.80,427.24 405.00,427.43 405.20,425.51 405.40,425.95 405.60,427.16 405.80,426.04 406.00,427.15 406.20,427.67 406.40,427.46 406.60,426.00 406.80,427.34 407.00,425.98 407.20,427.41 407.40,425.87 407.60,427.29 407.80,425.74 408.00,425.12 408.20,425.69 408.40,427.19 408.60,425.74 408.80,427.29 409.00,425.99 409.20,427.06 409.40,425.99 409.60,424.88 409.80,425.93 410.00,427.23 410.20,425.68 410.40,425.23 410.60,425.59 410.80,426.89 411.00,425.66 411.20,428.02 411.40,425.76 411.60,427.12 411.80,425.85 412.00,425.38 412.20,425.65 412.40,427.17 412.60,425.64 412.80,427.17 413.00,425.73 413.20,426.98 413.40,425.66 413.60,427.08 413.80,425.53 414.00,427.15 414.20,425.73 414.40,427.16 414.60,426.02 414.80,427.21 415.00,425.66 415.20,427.10 415.40,424.45 415.60,427.42 415.80,425.75 416.00,427.54 416.20,425.79 416.40,427.32 416.60,426.07 416.80,427.37 417.00,425.91 417.20,427.15 417.40,425.81 417.60,427.36 417.80,426.12 418.00,427.24 418.20,425.86 418.40,427.52 418.60,426.13 418.80,427.51 419.00,425.99 419.20,427.51 419.40,425.84 419.60,424.85 419.80,425.32 420.00,427.35 420.20,425.87 420.40,425.23 420.60,425.41 420.80,427.39 421.00,426.01 421.20,427.11 421.40,425.91 421.60,427.11 421.80,425.95 422.00,427.15 422.20,425.97 422.40,427.33 422.60,426.12 422.80,427.27 423.00,425.53 423.20,427.35 423.40,425.86 423.60,427.17 423.80,425.95 424.00,427.32 424.20,426.17 424.40,427.36 424.60,425.24 424.80,427.36 425.00,425.36 425.20,427.39 425.40,426.08 425.60,427.34 425.80,426.12 426.00,427.56 426.20,424.82 426.40,427.45 426.60,426.23 426.80,427.25 427.00,425.27 427.20,425.37 427.40,425.80 427.60,427.06 427.80,425.82 428.00,427.28 428.20,426.02 428.40,427.07 428.60,425.82 428.80,426.96 429.00,425.47 429.20,427.03 429.40,425.81 429.60,426.83 429.80,425.62 430.00,426.97 430.20,425.34 430.40,426.99 430.60,425.64 430.80,426.76 431.00,425.44 431.20,426.68 431.40,425.58 431.60,426.89 431.80,425.70 432.00,426.88 432.20,425.37 432.40,426.73 432.60,425.26 432.80,425.30 433.00,425.66 433.20,426.74 433.40,425.69 433.60,427.11 433.80,425.39 434.00,425.32 434.20,424.49 434.40,427.06 434.60,425.62 434.80,426.98 435.00,425.64 435.20,427.11 435.40,425.58 435.60,427.13 435.80,425.25 436.00,427.26 436.20,425.87 436.40,425.37 436.60,425.74 436.80,427.08 437.00,425.48 437.20,427.16 437.40,425.69 437.60,424.61 437.80,425.55 438.00,426.91 438.20,425.59 438.40,426.88 438.60,425.03 438.80,427.20 439.00,425.86 439.20,427.30 439.40,425.55 439.60,426.97 439.80,425.96 440.00,427.19 440.20,425.90 440.40,427.01 440.60,425.79 440.80,424.85 441.00,425.84 441.20,427.09 441.40,426.00 441.60,427.34 441.80,425.99 442.00,427.02 442.20,425.97 442.40,427.22 442.60,425.62 442.80,425.53 443.00,425.79 443.20,427.67 443.40,425.69 443.60,427.30 443.80,425.23 444.00,426.97 444.20,425.76 444.40,425.33 444.60,425.65 444.80,427.08 445.00,425.91 445.20,427.20 445.40,426.08 445.60,427.44 445.80,427.55 446.00,427.11 446.20,425.97 446.40,427.20 446.60,425.58 446.80,427.28 447.00,425.90 447.20,427.10 447.40,425.63 447.60,427.01 447.80,425.65 448.00,427.03 448.20,425.85 448.40,425.24 448.60,424.93 448.80,427.31 449.00,427.50 449.20,427.15 449.40,426.06 449.60,427.16 449.80,425.85 450.00,427.18 450.20,427.82 450.40,428.10 450.60,425.86 450.80,427.28 451.00,427.75 451.20,425.51 451.40,424.87 451.60,427.22 451.80,425.79 452.00,427.32 452.20,425.73 452.40,427.28 452.60,426.00 452.80,427.44 453.00,425.84 453.20,427.21 453.40,425.72 453.60,427.31"/>
<path d="M88.00,421.83V253.00" stroke="#555" stroke-width="1.0"/>
<path d="M88.50,421.89V310.92" stroke="#000" stroke-width="1.0"/>
<path d="M101.00,423.26V317.94" stroke="#3a3a3a" stroke-width="1.0"/>
<path d="M101.50,423.27V386.38" stroke="#222" stroke-width="1.0"/>
<path d="M118.00,423.61V317.94" stroke="#2a2a2a" stroke-width="1.0"/>
<path d="M118.50,423.62V370.58" stroke="#000" stroke-width="1.0"/>
<path d="M139.50,424.07V289.86" stroke="#666" stroke-width="1.0"/>
<path d="M140.00,424.08V384.62" stroke="#333" stroke-width="2.0"/>
<path d="M31.50,417.06V393.40" stroke="#606060" stroke-width="1.0"/>
<path d="M47.50,419.64V403.93" stroke="#606060" stroke-width="1.0"/>
<path d="M86.50,421.66V396.91" stroke="#999" stroke-width="1.0"/>
<path d="M86.50,421.66V403.93" stroke="#606060" stroke-width="1.0"/>
<path d="M93.50,422.47V381.12" stroke="#606060" stroke-width="1.0"/>
<path d="M97.50,422.94V360.06" stroke="#999" stroke-width="1.0"/>
<path d="M98.50,423.06V360.06" stroke="#aaa" stroke-width="1.0"/>
<path d="M99.50,423.18V393.40" stroke="#606060" stroke-width="1.0"/>
<path d="M91.50,422.24V405.69" stroke="#606060" stroke-width="1.0"/>
<path d="M95.50,422.71V407.44" stroke="#606060" stroke-width="1.0"/>
<path d="M142.50,424.13V407.44" stroke="#606060" stroke-width="1.0"/>
<path d="M145.50,424.19V414.46" stroke="#606060" stroke-width="1.0"/>
<path d="M191.50,425.12V417.97" stroke="#606060" stroke-width="1.0"/>
<path d="M233.50,425.62V420.60" stroke="#606060" stroke-width="1.0"/>
<path d="M272.50,426.17V421.48" stroke="#606060" stroke-width="1.0"/>
<text x="88.10" y="251.90" font-size="6.6" font-family="'Liberation Sans', Arial, sans-serif" textLength="28.10" lengthAdjust="spacingAndGlyphs" fill="#000" stroke="#000" stroke-width="0.12">1550.4972</text>
<text x="139.60" y="287.50" font-size="6.6" font-family="'Liberation Sans', Arial, sans-serif" textLength="27.80" lengthAdjust="spacingAndGlyphs" fill="#000" stroke="#000" stroke-width="0.12">2178.6583</text>
<text x="118.20" y="315.10" font-size="6.6" font-family="'Liberation Sans', Arial, sans-serif" textLength="27.70" lengthAdjust="spacingAndGlyphs" fill="#000" stroke="#000" stroke-width="0.12">1913.6837</text>
<text x="98.00" y="357.70" font-size="6.6" font-family="'Liberation Sans', Arial, sans-serif" textLength="27.90" lengthAdjust="spacingAndGlyphs" fill="#000" stroke="#000" stroke-width="0.12">1670.5346</text>
<text x="93.60" y="379.90" font-size="6.6" font-family="'Liberation Sans', Arial, sans-serif" textLength="27.60" lengthAdjust="spacingAndGlyphs" fill="#000" stroke="#000" stroke-width="0.12">1612.5102</text>
<text x="101.00" y="391.20" font-size="6.6" font-family="'Liberation Sans', Arial, sans-serif" textLength="27.30" lengthAdjust="spacingAndGlyphs" fill="#000" stroke="#000" stroke-width="0.12">1690.3168</text>
<text x="91.20" y="403.60" font-size="6.6" font-family="'Liberation Sans', Arial, sans-serif" textLength="26.80" lengthAdjust="spacingAndGlyphs" fill="#000" stroke="#000" stroke-width="0.12">1624.4777</text>
<text x="95.50" y="411.50" font-size="6.6" font-family="'Liberation Sans', Arial, sans-serif" textLength="24.30" lengthAdjust="spacingAndGlyphs" fill="#000" stroke="#000" stroke-width="0.12">1636.4999</text>
<text x="103.00" y="419.50" font-size="6.6" font-family="'Liberation Sans', Arial, sans-serif" textLength="27.50" lengthAdjust="spacingAndGlyphs" fill="#000" stroke="#000" stroke-width="0.12">1734.6444</text>
<text x="30.80" y="391.70" font-size="6.6" font-family="'Liberation Sans', Arial, sans-serif" textLength="25.00" lengthAdjust="spacingAndGlyphs" fill="#000" stroke="#000" stroke-width="0.12">854.8474</text>
<text x="32.50" y="410.80" font-size="6.6" font-family="'Liberation Sans', Arial, sans-serif" textLength="25.00" lengthAdjust="spacingAndGlyphs" fill="#000" stroke="#000" stroke-width="0.12">878.2878</text>
<text x="47.50" y="402.50" font-size="6.6" font-family="'Liberation Sans', Arial, sans-serif" textLength="27.50" lengthAdjust="spacingAndGlyphs" fill="#000" stroke="#000" stroke-width="0.12">1059.8381</text>
<text x="60.00" y="414.00" font-size="6.6" font-family="'Liberation Sans', Arial, sans-serif" textLength="26.70" lengthAdjust="spacingAndGlyphs" fill="#000" stroke="#000" stroke-width="0.12">1199.4543</text>
<text x="140.80" y="404.60" font-size="6.6" font-family="'Liberation Sans', Arial, sans-serif" textLength="28.00" lengthAdjust="spacingAndGlyphs" fill="#000" stroke="#000" stroke-width="0.12">2194.6647</text>
<text x="145.80" y="415.40" font-size="6.6" font-family="'Liberation Sans', Arial, sans-serif" textLength="28.00" lengthAdjust="spacingAndGlyphs" fill="#000" stroke="#000" stroke-width="0.12">2263.7186</text>
<text x="191.25" y="418.00" font-size="6.6" font-family="'Liberation Sans', Arial, sans-serif" textLength="28.25" lengthAdjust="spacingAndGlyphs" fill="#000" stroke="#000" stroke-width="0.12">2808.8365</text>
<text x="233.25" y="420.00" font-size="6.6" font-family="'Liberation Sans', Arial, sans-serif" textLength="28.00" lengthAdjust="spacingAndGlyphs" fill="#000" stroke="#000" stroke-width="0.12">3321.9755</text>
<text x="272.50" y="420.80" font-size="6.6" font-family="'Liberation Sans', Arial, sans-serif" textLength="27.90" lengthAdjust="spacingAndGlyphs" fill="#000" stroke="#000" stroke-width="0.12">3794.9277</text>
<path d="M30.50,489.90V669.20" stroke="#5a5a5a" stroke-width="1" fill="none"/>
<path d="M28.50,666.70H456.50" stroke="#b0b0b0" stroke-width="2" fill="none"/>
<path d="M458.00,490.40H456.50V669.20" stroke="#555" stroke-width="1" fill="none"/>
<path d="M28.00,666.50H30.50M29.00,657.50H30.50M28.00,649.50H30.50M29.00,640.50H30.50M28.00,631.50H30.50M29.00,622.50H30.50M28.00,613.50H30.50M29.00,604.50H30.50M28.00,596.50H30.50M29.00,587.50H30.50M28.00,578.50H30.50M29.00,569.50H30.50M28.00,560.50H30.50M29.00,552.50H30.50M28.00,543.50H30.50M29.00,534.50H30.50M28.00,525.50H30.50M29.00,516.50H30.50M28.00,508.50H30.50M29.00,499.50H30.50M28.00,490.50H30.50M30.50,666.70V669.20M73.50,666.70V668.70M115.50,666.70V669.20M158.50,666.70V668.70M200.50,666.70V669.20M243.50,666.70V668.70M286.50,666.70V669.20M328.50,666.70V668.70M371.50,666.70V669.20M413.50,666.70V668.70M456.50,666.70V669.20" stroke="#5a5a5a" stroke-width="1" fill="none"/>
<text x="24.20" y="669.20" font-size="6.9" font-family="'Liberation Sans', Arial, sans-serif" font-weight="bold" text-anchor="end" textLength="2.70" lengthAdjust="spacingAndGlyphs" stroke="#000" stroke-width="0.3">0</text>
<text x="24.20" y="651.57" font-size="6.9" font-family="'Liberation Sans', Arial, sans-serif" font-weight="bold" text-anchor="end" textLength="5.60" lengthAdjust="spacingAndGlyphs" stroke="#000" stroke-width="0.3">10</text>
<text x="24.20" y="633.94" font-size="6.9" font-family="'Liberation Sans', Arial, sans-serif" font-weight="bold" text-anchor="end" textLength="5.60" lengthAdjust="spacingAndGlyphs" stroke="#000" stroke-width="0.3">20</text>
<text x="24.20" y="616.31" font-size="6.9" font-family="'Liberation Sans', Arial, sans-serif" font-weight="bold" text-anchor="end" textLength="5.60" lengthAdjust="spacingAndGlyphs" stroke="#000" stroke-width="0.3">30</text>
<text x="24.20" y="598.68" font-size="6.9" font-family="'Liberation Sans', Arial, sans-serif" font-weight="bold" text-anchor="end" textLength="5.60" lengthAdjust="spacingAndGlyphs" stroke="#000" stroke-width="0.3">40</text>
<text x="24.20" y="581.05" font-size="6.9" font-family="'Liberation Sans', Arial, sans-serif" font-weight="bold" text-anchor="end" textLength="5.60" lengthAdjust="spacingAndGlyphs" stroke="#000" stroke-width="0.3">50</text>
<text x="24.20" y="563.42" font-size="6.9" font-family="'Liberation Sans', Arial, sans-serif" font-weight="bold" text-anchor="end" textLength="5.60" lengthAdjust="spacingAndGlyphs" stroke="#000" stroke-width="0.3">60</text>
<text x="24.20" y="545.79" font-size="6.9" font-family="'Liberation Sans', Arial, sans-serif" font-weight="bold" text-anchor="end" textLength="5.60" lengthAdjust="spacingAndGlyphs" stroke="#000" stroke-width="0.3">70</text>
<text x="24.20" y="528.16" font-size="6.9" font-family="'Liberation Sans', Arial, sans-serif" font-weight="bold" text-anchor="end" textLength="5.60" lengthAdjust="spacingAndGlyphs" stroke="#000" stroke-width="0.3">80</text>
<text x="24.20" y="510.53" font-size="6.9" font-family="'Liberation Sans', Arial, sans-serif" font-weight="bold" text-anchor="end" textLength="5.60" lengthAdjust="spacingAndGlyphs" stroke="#000" stroke-width="0.3">90</text>
<text x="24.20" y="492.90" font-size="6.9" font-family="'Liberation Sans', Arial, sans-serif" font-weight="bold" text-anchor="end" textLength="9.00" lengthAdjust="spacingAndGlyphs" stroke="#000" stroke-width="0.3">100</text>
<text x="30.00" y="678.10" font-size="6.9" font-family="'Liberation Sans', Arial, sans-serif" font-weight="bold" text-anchor="middle" textLength="14.60" lengthAdjust="spacingAndGlyphs" stroke="#000" stroke-width="0.3">844.0</text>
<text x="115.20" y="678.10" font-size="6.9" font-family="'Liberation Sans', Arial, sans-serif" font-weight="bold" text-anchor="middle" textLength="17.40" lengthAdjust="spacingAndGlyphs" stroke="#000" stroke-width="0.3">1875.4</text>
<text x="200.40" y="678.10" font-size="6.9" font-family="'Liberation Sans', Arial, sans-serif" font-weight="bold" text-anchor="middle" textLength="17.40" lengthAdjust="spacingAndGlyphs" stroke="#000" stroke-width="0.3">2906.8</text>
<text x="285.60" y="678.10" font-size="6.9" font-family="'Liberation Sans', Arial, sans-serif" font-weight="bold" text-anchor="middle" textLength="17.40" lengthAdjust="spacingAndGlyphs" stroke="#000" stroke-width="0.3">3938.2</text>
<text x="370.80" y="678.10" font-size="6.9" font-family="'Liberation Sans', Arial, sans-serif" font-weight="bold" text-anchor="middle" textLength="17.40" lengthAdjust="spacingAndGlyphs" stroke="#000" stroke-width="0.3">4969.6</text>
<text x="456.00" y="678.10" font-size="6.9" font-family="'Liberation Sans', Arial, sans-serif" font-weight="bold" text-anchor="middle" textLength="17.40" lengthAdjust="spacingAndGlyphs" stroke="#000" stroke-width="0.3">6001.0</text>
<text x="461.60" y="492.30" font-size="6.9" font-family="'Liberation Sans', Arial, sans-serif" font-weight="bold" textLength="18.30" lengthAdjust="spacingAndGlyphs" stroke="#000" stroke-width="0.3">5151.0</text>
<text x="461.00" y="668.90" font-size="6.9" font-family="'Liberation Sans', Arial, sans-serif" font-weight="bold" textLength="2.80" lengthAdjust="spacingAndGlyphs" stroke="#000" stroke-width="0.3">0</text>
<text x="1.90" y="487.20" font-size="15.2" font-family="'Liberation Serif', 'Times New Roman', serif" font-weight="bold" textLength="9.40" lengthAdjust="spacingAndGlyphs">C</text>
<text x="167.60" y="481.30" font-size="8.8" font-family="'Liberation Sans', Arial, sans-serif" font-weight="bold" textLength="142.20" lengthAdjust="spacingAndGlyphs">Voyager Spec #1[BP = 1275.0, 5151]</text>
<text x="8.10" y="607.95" font-size="11.4" font-family="'Liberation Serif', 'Times New Roman', serif" font-weight="bold" textLength="58.40" lengthAdjust="spacingAndGlyphs" transform="rotate(-90 8.1 607.95)">% Intensity</text>
<text x="209.80" y="691.20" font-size="11.4" font-family="'Liberation Serif', 'Times New Roman', serif" font-weight="bold" textLength="53.50" lengthAdjust="spacingAndGlyphs">Mass (m/z)</text>
<polyline fill="none" stroke="#000" stroke-width="0.75" stroke-linejoin="bevel" points="30.50,666.70 31.00,649.27 31.20,648.13 31.40,650.65 31.60,656.27 31.80,650.79 32.00,655.53 32.20,649.11 32.40,657.06 32.60,648.66 32.80,656.45 33.00,650.44 33.20,655.24 33.40,648.10 33.60,656.27 33.80,649.13 34.00,655.72 34.20,649.92 34.40,654.84 34.60,650.21 34.80,655.33 35.00,649.72 35.20,655.02 35.40,649.38 35.60,655.11 35.80,649.09 36.00,657.00 36.20,657.07 36.40,655.73 36.60,649.70 36.80,656.50 37.00,646.89 37.20,656.31 37.40,649.67 37.60,655.49 37.80,650.42 38.00,648.91 38.20,650.81 38.40,659.63 38.60,650.63 38.80,656.80 39.00,649.90 39.20,655.42 39.40,646.17 39.60,656.70 39.80,651.30 40.00,657.37 40.20,651.62 40.40,656.23 40.60,652.51 40.80,657.21 41.00,651.14 41.20,657.14 41.40,651.16 41.60,656.88 41.80,652.58 42.00,657.76 42.20,659.48 42.40,657.76 42.60,658.16 42.80,657.62 43.00,652.35 43.20,658.16 43.40,649.29 43.60,658.72 43.80,652.71 44.00,657.85 44.20,653.14 44.40,658.06 44.60,651.47 44.80,658.41 45.00,653.59 45.20,658.34 45.40,652.89 45.60,658.56 45.80,652.72 46.00,658.08 46.20,653.87 46.40,657.50 46.60,653.96 46.80,657.59 47.00,658.94 47.20,657.22 47.40,653.39 47.60,652.17 47.80,653.89 48.00,652.43 48.20,652.50 48.40,658.05 48.60,653.92 48.80,658.19 49.00,653.95 49.20,650.08 49.40,652.72 49.60,658.48 49.80,652.89 50.00,657.59 50.20,653.83 50.40,649.53 50.60,653.39 50.80,657.09 51.00,653.01 51.20,658.29 51.40,652.54 51.60,650.83 51.80,653.27 52.00,657.61 52.20,653.34 52.40,657.93 52.60,652.81 52.80,657.58 53.00,653.09 53.20,657.43 53.40,653.69 53.60,658.13 53.80,653.46 54.00,658.14 54.20,659.93 54.40,657.02 54.60,652.96 54.80,657.50 55.00,653.11 55.20,656.98 55.40,658.86 55.60,657.27 55.80,653.22 56.00,657.37 56.20,652.88 56.40,658.15 56.60,653.72 56.80,658.81 57.00,651.10 57.20,657.84 57.40,652.70 57.60,657.27 57.80,649.84 58.00,657.83 58.20,653.09 58.40,658.28 58.60,651.98 58.80,658.11 59.00,652.84 59.20,658.41 59.40,660.09 59.60,658.05 59.80,653.07 60.00,658.09 60.20,654.00 60.40,659.03 60.60,653.31 60.80,658.47 61.00,654.51 61.20,658.58 61.40,653.21 61.60,658.72 61.80,654.04 62.00,658.95 62.20,659.79 62.40,658.98 62.60,653.21 62.80,658.28 63.00,648.94 63.20,657.97 63.40,653.06 63.60,657.67 63.80,653.29 64.00,657.42 64.20,653.52 64.40,657.00 64.60,653.49 64.80,656.71 65.00,650.63 65.20,656.76 65.40,652.98 65.60,657.67 65.80,652.49 66.00,656.53 66.20,653.19 66.40,653.13 66.60,653.08 66.80,657.31 67.00,654.07 67.20,657.83 67.40,654.15 67.60,658.24 67.80,653.99 68.00,659.21 68.20,654.58 68.40,659.25 68.60,654.78 68.80,659.63 69.00,655.46 69.20,659.37 69.40,652.78 69.60,660.06 69.80,657.13 70.00,660.18 70.20,656.21 70.40,660.02 70.60,655.18 70.80,660.90 71.00,656.72 71.20,660.62 71.40,657.55 71.60,660.17 71.80,656.49 72.00,660.31 72.20,657.44 72.40,660.20 72.60,657.57 72.80,661.15 73.00,656.85 73.20,660.97 73.40,656.98 73.60,660.82 73.80,657.56 74.00,660.91 74.20,657.40 74.40,660.68 74.60,657.73 74.80,660.66 75.00,657.44 75.20,661.58 75.40,657.52 75.60,660.91 75.80,657.92 76.00,661.26 76.20,657.61 76.40,661.10 76.60,658.22 76.80,660.88 77.00,657.88 77.20,661.15 77.40,657.36 77.60,661.32 77.80,657.18 78.00,660.47 78.20,656.99 78.40,660.62 78.60,657.48 78.80,660.51 79.00,657.31 79.20,656.01 79.40,656.84 79.60,660.16 79.80,657.11 80.00,660.51 80.20,656.82 80.40,660.76 80.60,657.15 80.80,659.88 81.00,655.26 81.20,659.91 81.40,655.62 81.60,655.32 81.80,656.46 82.00,660.16 82.20,656.38 82.40,659.91 82.60,656.57 82.80,653.61 83.00,655.97 83.20,659.67 83.40,656.24 83.60,659.77 83.80,656.15 84.00,660.13 84.20,656.11 84.40,660.02 84.60,654.43 84.80,659.84 85.00,656.27 85.20,660.46 85.40,656.12 85.60,660.18 85.80,656.14 86.00,659.28 86.20,656.45 86.40,655.66 86.60,656.37 86.80,660.38 87.00,656.25 87.20,659.99 87.40,657.10 87.60,660.31 87.80,656.68 88.00,655.10 88.20,657.31 88.40,655.72 88.60,656.67 88.80,660.98 89.00,657.75 89.20,660.81 89.40,657.52 89.60,661.00 89.80,657.83 90.00,661.24 90.20,657.56 90.40,661.04 90.60,657.35 90.80,661.03 91.00,657.32 91.20,662.36 91.40,658.06 91.60,660.36 91.80,657.57 92.00,656.38 92.20,656.03 92.40,660.94 92.60,658.00 92.80,660.91 93.00,657.71 93.20,661.34 93.40,657.45 93.60,654.62 93.80,657.56 94.00,660.60 94.20,657.72 94.40,661.01 94.60,656.88 94.80,661.11 95.00,657.02 95.20,660.82 95.40,657.35 95.60,656.38 95.80,657.56 96.00,661.37 96.20,657.51 96.40,660.60 96.60,657.06 96.80,656.38 97.00,657.63 97.20,661.27 97.40,655.07 97.60,661.68 97.80,657.30 98.00,660.22 98.20,655.54 98.40,660.99 98.60,656.36 98.80,654.17 99.00,661.71 99.20,660.40 99.40,657.04 99.60,660.88 99.80,657.26 100.00,660.92 100.20,657.31 100.40,660.24 100.60,661.65 100.80,660.02 101.00,657.20 101.20,656.36 101.40,656.61 101.60,660.97 101.80,656.85 102.00,654.92 102.20,657.62 102.40,655.58 102.60,655.87 102.80,656.31 103.00,657.50 103.20,654.27 103.40,657.52 103.60,656.46 103.80,657.11 104.00,660.81 104.20,657.66 104.40,660.87 104.60,657.08 104.80,661.03 105.00,657.56 105.20,660.27 105.40,657.57 105.60,656.78 105.80,657.39 106.00,660.53 106.20,655.93 106.40,660.16 106.60,657.20 106.80,660.21 107.00,656.69 107.20,660.62 107.40,656.47 107.60,660.25 107.80,656.75 108.00,659.95 108.20,654.38 108.40,660.23 108.60,657.31 108.80,653.94 109.00,656.69 109.20,660.42 109.40,662.25 109.60,660.10 109.80,656.70 110.00,660.45 110.20,656.08 110.40,659.96 110.60,656.38 110.80,660.57 111.00,657.31 111.20,660.14 111.40,656.84 111.60,660.45 111.80,656.62 112.00,659.78 112.20,656.75 112.40,660.34 112.60,657.10 112.80,660.14 113.00,656.70 113.20,660.27 113.40,656.98 113.60,660.27 113.80,656.49 114.00,659.99 114.20,656.75 114.40,659.34 114.60,656.90 114.80,660.06 115.00,656.42 115.20,656.10 115.40,657.45 115.60,654.03 115.80,656.67 116.00,660.32 116.20,654.23 116.40,660.79 116.60,662.10 116.80,660.95 117.00,656.38 117.20,660.75 117.40,657.97 117.60,661.40 117.80,656.80 118.00,661.46 118.20,656.18 118.40,661.14 118.60,657.41 118.80,655.26 119.00,657.77 119.20,661.24 119.40,658.33 119.60,661.71 119.80,657.61 120.00,661.37 120.20,657.28 120.40,656.08 120.60,656.72 120.80,660.86 121.00,657.76 121.20,660.75 121.40,656.60 121.60,660.22 121.80,657.24 122.00,656.77 122.20,656.91 122.40,661.42 122.60,657.22 122.80,655.69 123.00,657.33 123.20,660.23 123.40,656.96 123.60,660.34 123.80,661.61 124.00,660.28 124.20,656.88 124.40,660.60 124.60,657.02 124.80,655.54 125.00,657.84 125.20,660.75 125.40,656.18 125.60,660.68 125.80,656.12 126.00,661.48 126.20,657.54 126.40,660.87 126.60,657.99 126.80,660.65 127.00,657.93 127.20,661.00 127.40,657.28 127.60,661.07 127.80,657.17 128.00,655.94 128.20,657.25 128.40,660.77 128.60,657.45 128.80,660.31 129.00,657.09 129.20,660.29 129.40,657.30 129.60,660.15 129.80,657.14 130.00,656.56 130.20,657.15 130.40,659.92 130.60,657.20 130.80,660.28 131.00,656.32 131.20,661.92 131.40,656.75 131.60,659.92 131.80,656.67 132.00,659.85 132.20,657.50 132.40,660.75 132.60,657.26 132.80,660.77 133.00,657.42 133.20,660.37 133.40,657.91 133.60,660.81 133.80,657.46 134.00,660.27 134.20,657.86 134.40,661.19 134.60,657.52 134.80,660.74 135.00,657.90 135.20,661.19 135.40,657.47 135.60,660.77 135.80,657.68 136.00,661.05 136.20,657.72 136.40,660.72 136.60,657.99 136.80,661.18 137.00,658.19 137.20,661.08 137.40,657.88 137.60,660.99 137.80,657.46 138.00,663.30 138.20,658.18 138.40,661.07 138.60,658.24 138.80,660.99 139.00,657.80 139.20,661.61 139.40,654.97 139.60,657.19 139.80,658.00 140.00,661.28 140.20,657.77 140.40,661.60 140.60,658.05 140.80,660.78 141.00,658.42 141.20,661.82 141.40,658.90 141.60,662.12 141.80,658.25 142.00,662.10 142.20,658.62 142.40,662.04 142.60,658.80 142.80,661.63 143.00,657.91 143.20,661.42 143.40,658.75 143.60,661.96 143.80,658.24 144.00,662.07 144.20,658.55 144.40,661.53 144.60,659.04 144.80,661.42 145.00,658.29 145.20,661.48 145.40,658.70 145.60,662.10 145.80,659.13 146.00,661.73 146.20,658.88 146.40,657.58 146.60,657.82 146.80,658.10 147.00,658.57 147.20,661.61 147.40,658.35 147.60,661.34 147.80,658.63 148.00,662.81 148.20,663.90 148.40,657.77 148.60,658.30 148.80,661.48 149.00,659.01 149.20,661.57 149.40,658.89 149.60,662.70 149.80,658.67 150.00,662.75 150.20,659.14 150.40,661.99 150.60,659.27 150.80,658.30 151.00,659.24 151.20,661.79 151.40,658.27 151.60,658.13 151.80,659.27 152.00,657.88 152.20,658.93 152.40,662.23 152.60,658.55 152.80,661.89 153.00,658.50 153.20,661.98 153.40,659.48 153.60,662.53 153.80,658.68 154.00,661.74 154.20,659.10 154.40,661.74 154.60,658.96 154.80,662.52 155.00,659.46 155.20,662.39 155.40,658.93 155.60,661.74 155.80,659.29 156.00,661.68 156.20,659.28 156.40,662.17 156.60,659.53 156.80,662.58 157.00,659.51 157.20,662.52 157.40,659.23 157.60,662.11 157.80,659.70 158.00,662.68 158.20,659.17 158.40,662.49 158.60,659.31 158.80,662.70 159.00,659.42 159.20,663.05 159.40,659.52 159.60,663.04 159.80,658.51 160.00,663.06 160.20,659.47 160.40,662.30 160.60,659.71 160.80,663.13 161.00,664.01 161.20,662.84 161.40,660.26 161.60,663.46 161.80,660.28 162.00,662.75 162.20,659.73 162.40,663.36 162.60,659.92 162.80,662.69 163.00,660.37 163.20,656.90 163.40,659.75 163.60,663.09 163.80,659.45 164.00,662.16 164.20,658.53 164.40,662.73 164.60,659.45 164.80,662.06 165.00,659.44 165.20,662.48 165.40,659.85 165.60,659.63 165.80,659.57 166.00,662.80 166.20,659.79 166.40,662.72 166.60,665.00 166.80,662.31 167.00,658.40 167.20,663.05 167.40,659.72 167.60,657.99 167.80,659.07 168.00,663.01 168.20,659.28 168.40,659.33 168.60,659.87 168.80,662.77 169.00,658.72 169.20,663.32 169.40,660.31 169.60,663.17 169.80,660.45 170.00,663.06 170.20,660.46 170.40,663.86 170.60,660.42 170.80,663.19 171.00,661.02 171.20,663.82 171.40,660.34 171.60,663.86 171.80,660.79 172.00,663.69 172.20,660.54 172.40,663.57 172.60,659.51 172.80,663.88 173.00,661.28 173.20,663.52 173.40,659.43 173.60,663.64 173.80,661.21 174.00,663.48 174.20,661.25 174.40,664.48 174.60,661.51 174.80,659.86 175.00,659.35 175.20,664.22 175.40,660.75 175.60,664.23 175.80,661.32 176.00,664.20 176.20,661.38 176.40,663.67 176.60,661.34 176.80,664.25 177.00,660.66 177.20,664.18 177.40,661.40 177.60,663.75 177.80,660.82 178.00,664.11 178.20,660.86 178.40,658.13 178.60,659.96 178.80,664.56 179.00,661.18 179.20,664.75 179.40,661.76 179.60,664.10 179.80,661.06 180.00,664.20 180.20,661.05 180.40,664.39 180.60,661.25 180.80,664.47 181.00,661.61 181.20,663.94 181.40,658.29 181.60,664.17 181.80,661.33 182.00,663.91 182.20,661.09 182.40,658.30 182.60,661.78 182.80,664.32 183.00,661.44 183.20,663.80 183.40,661.35 183.60,664.13 183.80,660.92 184.00,664.29 184.20,661.50 184.40,664.48 184.60,661.05 184.80,664.48 185.00,661.53 185.20,664.15 185.40,661.15 185.60,664.42 185.80,661.19 186.00,663.81 186.20,661.48 186.40,663.92 186.60,661.00 186.80,664.12 187.00,661.16 187.20,664.44 187.40,661.32 187.60,664.41 187.80,661.74 188.00,664.18 188.20,661.55 188.40,664.49 188.60,662.05 188.80,658.42 189.00,661.41 189.20,664.61 189.40,661.31 189.60,660.30 189.80,661.99 190.00,664.61 190.20,661.38 190.40,663.94 190.60,661.77 190.80,664.40 191.00,661.73 191.20,664.50 191.40,661.38 191.60,664.07 191.80,661.24 192.00,664.69 192.20,661.97 192.40,664.36 192.60,661.36 192.80,663.90 193.00,658.49 193.20,663.66 193.40,660.67 193.60,663.96 193.80,659.50 194.00,663.71 194.20,660.51 194.40,663.73 194.60,660.80 194.80,663.57 195.00,661.28 195.20,663.90 195.40,661.21 195.60,663.61 195.80,661.65 196.00,664.17 196.20,665.52 196.40,664.53 196.60,661.42 196.80,663.94 197.00,660.79 197.20,664.02 197.40,661.69 197.60,664.23 197.80,664.46 198.00,663.96 198.20,661.27 198.40,664.24 198.60,661.96 198.80,664.35 199.00,661.90 199.20,664.86 199.40,661.73 199.60,664.56 199.80,661.26 200.00,664.36 200.20,661.45 200.40,658.93 200.60,661.45 200.80,664.40 201.00,661.63 201.20,664.62 201.40,661.43 201.60,663.93 201.80,661.13 202.00,664.60 202.20,661.34 202.40,664.13 202.60,661.53 202.80,664.53 203.00,661.90 203.20,664.76 203.40,661.54 203.60,660.57 203.80,661.16 204.00,664.58 204.20,661.96 204.40,664.53 204.60,661.31 204.80,664.65 205.00,661.74 205.20,664.51 205.40,661.29 205.60,664.29 205.80,659.56 206.00,664.07 206.20,661.66 206.40,664.36 206.60,661.41 206.80,664.58 207.00,661.92 207.20,664.46 207.40,661.40 207.60,664.49 207.80,659.36 208.00,664.31 208.20,661.36 208.40,663.76 208.60,658.76 208.80,664.26 209.00,660.94 209.20,663.69 209.40,660.26 209.60,663.95 209.80,661.29 210.00,663.91 210.20,661.55 210.40,659.94 210.60,661.47 210.80,660.89 211.00,661.03 211.20,664.03 211.40,661.49 211.60,663.71 211.80,661.13 212.00,663.41 212.20,660.85 212.40,663.92 212.60,661.49 212.80,663.50 213.00,661.65 213.20,664.11 213.40,658.85 213.60,664.29 213.80,661.65 214.00,664.49 214.20,661.68 214.40,663.98 214.60,661.75 214.80,664.53 215.00,661.43 215.20,660.37 215.40,661.08 215.60,664.10 215.80,661.88 216.00,661.13 216.20,661.68 216.40,660.96 216.60,661.60 216.80,664.26 217.00,661.85 217.20,664.33 217.40,660.81 217.60,664.39 217.80,661.26 218.00,664.08 218.20,661.59 218.40,663.53 218.60,665.02 218.80,660.30 219.00,661.21 219.20,664.04 219.40,660.91 219.60,664.16 219.80,661.10 220.00,663.73 220.20,664.71 220.40,658.97 220.60,661.27 220.80,664.20 221.00,660.95 221.20,663.73 221.40,660.17 221.60,664.22 221.80,661.34 222.00,663.95 222.20,661.22 222.40,663.89 222.60,661.01 222.80,663.96 223.00,661.55 223.20,663.45 223.40,661.15 223.60,663.67 223.80,661.06 224.00,663.53 224.20,660.31 224.40,663.85 224.60,661.04 224.80,663.68 225.00,661.16 225.20,663.68 225.40,661.30 225.60,663.61 225.80,660.92 226.00,663.86 226.20,661.63 226.40,663.97 226.60,661.11 226.80,663.79 227.00,665.78 227.20,664.12 227.40,661.42 227.60,663.69 227.80,661.40 228.00,663.81 228.20,661.07 228.40,659.90 228.60,661.54 228.80,664.25 229.00,661.41 229.20,664.48 229.40,659.13 229.60,664.26 229.80,661.98 230.00,664.51 230.20,660.69 230.40,664.88 230.60,661.73 230.80,664.69 231.00,661.99 231.20,664.64 231.40,661.49 231.60,664.23 231.80,662.18 232.00,665.78 232.20,661.96 232.40,660.96 232.60,662.18 232.80,664.40 233.00,662.04 233.20,664.63 233.40,661.67 233.60,664.38 233.80,661.48 234.00,664.88 234.20,661.72 234.40,664.03 234.60,661.91 234.80,664.07 235.00,659.26 235.20,664.42 235.40,662.05 235.60,664.00 235.80,662.07 236.00,664.19 236.20,661.40 236.40,665.59 236.60,662.06 236.80,664.42 237.00,660.23 237.20,664.18 237.40,661.45 237.60,663.99 237.80,661.37 238.00,660.88 238.20,664.66 238.40,664.72 238.60,661.84 238.80,664.09 239.00,661.31 239.20,664.69 239.40,665.25 239.60,661.40 239.80,662.18 240.00,660.93 240.20,665.36 240.40,664.03 240.60,661.33 240.80,664.12 241.00,662.02 241.20,664.28 241.40,661.98 241.60,664.62 241.80,660.11 242.00,664.38 242.20,661.83 242.40,664.31 242.60,662.15 242.80,664.36 243.00,661.97 243.20,664.11 243.40,661.45 243.60,664.00 243.80,661.68 244.00,661.03 244.20,660.21 244.40,664.10 244.60,661.96 244.80,664.22 245.00,662.16 245.20,664.39 245.40,662.19 245.60,664.38 245.80,661.89 246.00,664.56 246.20,661.89 246.40,663.91 246.60,661.89 246.80,664.74 247.00,662.07 247.20,663.95 247.40,662.04 247.60,664.40 247.80,662.00 248.00,664.06 248.20,661.67 248.40,663.96 248.60,661.22 248.80,664.44 249.00,661.56 249.20,664.28 249.40,661.94 249.60,664.36 249.80,660.35 250.00,660.78 250.20,664.82 250.40,664.45 250.60,662.21 250.80,661.32 251.00,662.00 251.20,664.13 251.40,662.06 251.60,664.26 251.80,661.83 252.00,664.04 252.20,661.76 252.40,661.00 252.60,662.03 252.80,664.27 253.00,662.16 253.20,664.58 253.40,661.62 253.60,664.40 253.80,661.90 254.00,664.51 254.20,661.97 254.40,663.98 254.60,661.75 254.80,663.85 255.00,662.06 255.20,661.22 255.40,661.57 255.60,664.67 255.80,661.79 256.00,664.16 256.20,662.37 256.40,664.52 256.60,662.36 256.80,664.76 257.00,659.75 257.20,664.22 257.40,661.66 257.60,664.33 257.80,662.09 258.00,664.58 258.20,662.30 258.40,664.68 258.60,662.48 258.80,664.90 259.00,661.93 259.20,664.50 259.40,662.49 259.60,664.89 259.80,659.80 260.00,665.79 260.20,661.83 260.40,664.64 260.60,662.13 260.80,664.27 261.00,662.08 261.20,664.39 261.40,662.38 261.60,664.21 261.80,661.78 262.00,664.85 262.20,662.16 262.40,661.50 262.60,662.10 262.80,664.40 263.00,661.94 263.20,664.56 263.40,661.92 263.60,664.77 263.80,662.18 264.00,664.27 264.20,662.00 264.40,664.29 264.60,662.02 264.80,664.64 265.00,662.14 265.20,664.39 265.40,661.39 265.60,664.61 265.80,660.20 266.00,664.32 266.20,662.14 266.40,664.56 266.60,662.18 266.80,664.37 267.00,662.25 267.20,664.68 267.40,665.06 267.60,664.68 267.80,662.12 268.00,660.48 268.20,662.23 268.40,664.77 268.60,661.97 268.80,664.32 269.00,662.48 269.20,664.25 269.40,662.29 269.60,664.20 269.80,662.02 270.00,664.64 270.20,661.85 270.40,665.13 270.60,660.48 270.80,661.20 271.00,661.66 271.20,664.51 271.40,659.99 271.60,664.35 271.80,662.27 272.00,663.91 272.20,665.40 272.40,664.36 272.60,661.97 272.80,664.08 273.00,661.70 273.20,664.40 273.40,661.96 273.60,664.40 273.80,662.10 274.00,664.59 274.20,662.47 274.40,665.28 274.60,662.36 274.80,665.10 275.00,662.40 275.20,661.79 275.40,661.80 275.60,664.51 275.80,662.69 276.00,665.16 276.20,661.76 276.40,665.01 276.60,662.05 276.80,666.12 277.00,662.44 277.20,664.79 277.40,661.39 277.60,664.99 277.80,662.60 278.00,660.93 278.20,662.51 278.40,664.49 278.60,662.29 278.80,664.41 279.00,662.71 279.20,664.85 279.40,662.70 279.60,664.34 279.80,662.25 280.00,664.56 280.20,662.53 280.40,665.26 280.60,662.24 280.80,664.49 281.00,662.17 281.20,664.77 281.40,661.90 281.60,664.70 281.80,661.52 282.00,664.78 282.20,662.22 282.40,661.78 282.60,662.51 282.80,665.09 283.00,662.33 283.20,664.80 283.40,660.33 283.60,664.82 283.80,662.80 284.00,665.17 284.20,662.39 284.40,664.61 284.60,660.34 284.80,665.10 285.00,662.91 285.20,665.99 285.40,662.39 285.60,664.79 285.80,662.21 286.00,662.13 286.20,662.70 286.40,664.57 286.60,662.71 286.80,661.76 287.00,662.55 287.20,664.73 287.40,662.41 287.60,665.28 287.80,662.43 288.00,664.66 288.20,661.70 288.40,664.70 288.60,662.74 288.80,664.50 289.00,662.50 289.20,664.37 289.40,662.00 289.60,664.34 289.80,662.17 290.00,664.65 290.20,662.18 290.40,660.40 290.60,662.23 290.80,664.55 291.00,662.64 291.20,664.59 291.40,662.14 291.60,664.68 291.80,662.19 292.00,665.49 292.20,662.57 292.40,664.26 292.60,665.54 292.80,664.27 293.00,662.03 293.20,664.47 293.40,665.63 293.60,662.30 293.80,661.90 294.00,664.24 294.20,662.65 294.40,662.01 294.60,662.44 294.80,664.61 295.00,662.25 295.20,664.74 295.40,662.22 295.60,664.83 295.80,662.42 296.00,664.57 296.20,660.53 296.40,665.95 296.60,662.22 296.80,662.21 297.00,662.03 297.20,664.58 297.40,661.42 297.60,664.80 297.80,662.35 298.00,664.60 298.20,662.33 298.40,665.24 298.60,660.58 298.80,664.78 299.00,662.60 299.20,664.95 299.40,662.98 299.60,665.22 299.80,662.61 300.00,665.04 300.20,662.29 300.40,665.31 300.60,661.84 300.80,665.18 301.00,662.84 301.20,665.73 301.40,662.33 301.60,665.02 301.80,660.67 302.00,664.94 302.20,663.17 302.40,665.21 302.60,663.20 302.80,665.19 303.00,662.94 303.20,661.97 303.40,663.18 303.60,664.93 303.80,663.00 304.00,664.96 304.20,662.82 304.40,664.88 304.60,662.80 304.80,665.06 305.00,660.68 305.20,664.98 305.40,663.16 305.60,665.15 305.80,662.86 306.00,664.99 306.20,660.70 306.40,665.26 306.60,662.79 306.80,665.14 307.00,663.04 307.20,664.73 307.40,662.66 307.60,664.52 307.80,662.64 308.00,664.65 308.20,662.52 308.40,665.05 308.60,661.14 308.80,664.96 309.00,665.47 309.20,664.98 309.40,662.54 309.60,664.72 309.80,662.03 310.00,664.87 310.20,663.09 310.40,665.22 310.60,662.89 310.80,664.84 311.00,662.91 311.20,665.18 311.40,663.32 311.60,660.78 311.80,663.09 312.00,665.39 312.20,663.20 312.40,665.35 312.60,662.05 312.80,665.41 313.00,662.42 313.20,664.97 313.40,663.29 313.60,665.21 313.80,662.84 314.00,665.15 314.20,665.62 314.40,664.90 314.60,662.95 314.80,664.66 315.00,661.28 315.20,664.85 315.40,663.02 315.60,665.51 315.80,662.25 316.00,665.10 316.20,660.90 316.40,664.78 316.60,665.55 316.80,665.11 317.00,663.01 317.20,664.95 317.40,663.37 317.60,665.51 317.80,663.22 318.00,662.59 318.20,663.31 318.40,665.25 318.60,662.88 318.80,665.25 319.00,663.16 319.20,665.30 319.40,663.34 319.60,665.43 319.80,663.33 320.00,665.20 320.20,665.39 320.40,665.12 320.60,663.08 320.80,665.22 321.00,663.01 321.20,665.22 321.40,663.25 321.60,664.87 321.80,663.03 322.00,665.25 322.20,662.82 322.40,665.16 322.60,663.11 322.80,664.79 323.00,662.72 323.20,664.78 323.40,662.09 323.60,664.92 323.80,663.39 324.00,665.40 324.20,663.28 324.40,664.98 324.60,663.28 324.80,661.12 325.00,663.07 325.20,665.20 325.40,662.85 325.60,665.05 325.80,663.04 326.00,665.31 326.20,663.31 326.40,665.10 326.60,662.71 326.80,662.64 327.00,662.74 327.20,661.01 327.40,661.01 327.60,664.91 327.80,663.17 328.00,665.03 328.20,663.10 328.40,664.78 328.60,662.68 328.80,665.01 329.00,662.66 329.20,664.59 329.40,663.02 329.60,664.88 329.80,662.76 330.00,665.04 330.20,666.25 330.40,664.79 330.60,662.63 330.80,665.96 331.00,662.66 331.20,662.72 331.40,661.68 331.60,664.91 331.80,662.74 332.00,664.99 332.20,665.35 332.40,664.81 332.60,662.80 332.80,664.67 333.00,662.66 333.20,664.92 333.40,662.89 333.60,664.91 333.80,662.56 334.00,664.62 334.20,662.17 334.40,664.85 334.60,662.50 334.80,664.86 335.00,662.77 335.20,664.43 335.40,662.90 335.60,662.43 335.80,662.89 336.00,661.71 336.20,662.72 336.40,664.60 336.60,662.76 336.80,664.63 337.00,662.58 337.20,664.48 337.40,662.81 337.60,665.10 337.80,662.85 338.00,664.97 338.20,662.95 338.40,664.75 338.60,662.75 338.80,664.58 339.00,662.72 339.20,664.65 339.40,662.74 339.60,664.64 339.80,662.65 340.00,665.53 340.20,663.17 340.40,664.67 340.60,663.10 340.80,664.72 341.00,663.05 341.20,664.58 341.40,662.72 341.60,664.71 341.80,662.92 342.00,664.73 342.20,666.03 342.40,664.75 342.60,663.01 342.80,664.29 343.00,662.43 343.20,664.72 343.40,662.51 343.60,664.80 343.80,662.80 344.00,664.55 344.20,662.98 344.40,662.48 344.60,662.80 344.80,664.70 345.00,663.22 345.20,664.86 345.40,662.83 345.60,665.06 345.80,662.87 346.00,665.18 346.20,661.28 346.40,665.19 346.60,662.95 346.80,664.96 347.00,662.97 347.20,665.14 347.40,663.57 347.60,665.11 347.80,663.20 348.00,665.63 348.20,663.11 348.40,665.37 348.60,663.09 348.80,665.15 349.00,663.56 349.20,664.91 349.40,665.29 349.60,665.24 349.80,663.57 350.00,665.13 350.20,663.53 350.40,665.11 350.60,663.11 350.80,665.32 351.00,663.58 351.20,662.79 351.40,663.34 351.60,661.72 351.80,663.56 352.00,665.40 352.20,663.35 352.40,665.46 352.60,663.57 352.80,665.31 353.00,663.41 353.20,665.45 353.40,663.23 353.60,661.39 353.80,663.12 354.00,664.94 354.20,663.22 354.40,664.86 354.60,662.85 354.80,664.72 355.00,663.13 355.20,664.74 355.40,662.93 355.60,664.53 355.80,662.90 356.00,664.28 356.20,662.47 356.40,662.72 356.60,662.47 356.80,664.51 357.00,662.68 357.20,664.24 357.40,662.45 357.60,664.32 357.80,662.67 358.00,664.57 358.20,662.57 358.40,664.71 358.60,662.66 358.80,664.76 359.00,662.62 359.20,664.81 359.40,662.70 359.60,662.28 359.80,662.85 360.00,665.05 360.20,662.99 360.40,665.10 360.60,663.39 360.80,666.15 361.00,663.47 361.20,665.12 361.40,662.81 361.60,664.94 361.80,663.28 362.00,665.01 362.20,662.97 362.40,665.34 362.60,665.51 362.80,664.96 363.00,663.12 363.20,662.78 363.40,663.28 363.60,665.03 363.80,663.31 364.00,664.90 364.20,663.41 364.40,664.89 364.60,663.23 364.80,665.04 365.00,663.24 365.20,664.89 365.40,662.94 365.60,664.87 365.80,663.22 366.00,665.11 366.20,663.37 366.40,664.84 366.60,663.18 366.80,664.76 367.00,663.16 367.20,664.78 367.40,663.02 367.60,665.13 367.80,663.39 368.00,661.60 368.20,663.03 368.40,664.50 368.60,663.08 368.80,664.46 369.00,663.19 369.20,664.90 369.40,663.07 369.60,664.52 369.80,663.16 370.00,664.89 370.20,662.35 370.40,664.76 370.60,662.87 370.80,664.90 371.00,663.34 371.20,664.86 371.40,663.37 371.60,665.37 371.80,663.15 372.00,662.67 372.20,663.17 372.40,665.22 372.60,662.55 372.80,665.01 373.00,663.54 373.20,665.50 373.40,663.90 373.60,665.61 373.80,663.70 374.00,665.35 374.20,663.65 374.40,665.66 374.60,663.55 374.80,665.56 375.00,663.57 375.20,665.14 375.40,663.46 375.60,665.39 375.80,666.10 376.00,663.02 376.20,663.38 376.40,665.00 376.60,663.26 376.80,665.26 377.00,661.73 377.20,665.20 377.40,662.94 377.60,665.00 377.80,663.46 378.00,664.80 378.20,663.10 378.40,664.79 378.60,663.26 378.80,665.11 379.00,662.85 379.20,664.86 379.40,663.19 379.60,665.06 379.80,663.37 380.00,664.96 380.20,663.23 380.40,665.08 380.60,663.43 380.80,665.56 381.00,663.49 381.20,665.07 381.40,663.34 381.60,665.19 381.80,663.36 382.00,665.18 382.20,663.42 382.40,665.17 382.60,662.66 382.80,664.90 383.00,663.66 383.20,665.19 383.40,665.92 383.60,665.91 383.80,663.51 384.00,665.39 384.20,663.48 384.40,665.21 384.60,663.56 384.80,665.19 385.00,662.92 385.20,665.04 385.40,663.52 385.60,665.42 385.80,663.76 386.00,664.98 386.20,663.57 386.40,664.88 386.60,663.59 386.80,665.28 387.00,662.80 387.20,665.31 387.40,662.07 387.60,665.01 387.80,663.53 388.00,665.11 388.20,665.70 388.40,665.18 388.60,666.13 388.80,665.29 389.00,663.52 389.20,665.48 389.40,662.01 389.60,663.12 389.80,663.73 390.00,665.12 390.20,663.15 390.40,665.26 390.60,663.74 390.80,662.67 391.00,663.84 391.20,665.36 391.40,663.65 391.60,665.59 391.80,663.63 392.00,665.44 392.20,663.54 392.40,665.07 392.60,663.59 392.80,665.14 393.00,662.25 393.20,664.98 393.40,663.19 393.60,665.41 393.80,663.34 394.00,664.97 394.20,663.31 394.40,665.11 394.60,663.72 394.80,665.15 395.00,663.69 395.20,665.25 395.40,663.39 395.60,664.90 395.80,663.57 396.00,665.19 396.20,663.28 396.40,661.79 396.60,662.98 396.80,665.13 397.00,663.09 397.20,664.95 397.40,663.51 397.60,665.19 397.80,663.44 398.00,662.48 398.20,663.67 398.40,665.02 398.60,663.30 398.80,665.26 399.00,663.31 399.20,665.03 399.40,663.47 399.60,665.13 399.80,663.36 400.00,662.90 400.20,663.52 400.40,663.03 400.60,663.39 400.80,665.16 401.00,663.54 401.20,665.16 401.40,662.65 401.60,665.28 401.80,663.35 402.00,665.14 402.20,663.75 402.40,662.19 402.60,663.59 402.80,665.27 403.00,663.63 403.20,666.00 403.40,663.68 403.60,665.08 403.80,663.50 404.00,665.27 404.20,663.60 404.40,662.99 404.60,663.55 404.80,665.55 405.00,663.66 405.20,661.80 405.40,663.54 405.60,665.40 405.80,663.46 406.00,665.26 406.20,663.13 406.40,665.50 406.60,663.53 406.80,665.41 407.00,663.71 407.20,665.60 407.40,663.22 407.60,665.49 407.80,662.21 408.00,665.51 408.20,663.49 408.40,665.46 408.60,663.48 408.80,665.28 409.00,663.57 409.20,665.08 409.40,663.76 409.60,665.16 409.80,663.53 410.00,665.36 410.20,663.17 410.40,664.99 410.60,663.42 410.80,665.03 411.00,663.32 411.20,665.15 411.40,663.64 411.60,661.80 411.80,663.63 412.00,665.17 412.20,663.62 412.40,665.29 412.60,663.70 412.80,665.17 413.00,663.68 413.20,665.07 413.40,663.59 413.60,665.13 413.80,665.50 414.00,665.41 414.20,663.78 414.40,665.33 414.60,663.64 414.80,665.36 415.00,663.59 415.20,665.39 415.40,663.72 415.60,665.55 415.80,663.74 416.00,663.05 416.20,663.82 416.40,665.44 416.60,664.10 416.80,665.66 417.00,664.07 417.20,665.73 417.40,663.57 417.60,665.35 417.80,663.52 418.00,665.69 418.20,665.48 418.40,665.23 418.60,663.94 418.80,665.30 419.00,662.06 419.20,665.20 419.40,663.46 419.60,665.50 419.80,662.49 420.00,665.19 420.20,663.47 420.40,665.38 420.60,662.21 420.80,663.08 421.00,663.14 421.20,664.98 421.40,662.17 421.60,665.37 421.80,663.16 422.00,662.64 422.20,663.20 422.40,665.09 422.60,663.33 422.80,665.26 423.00,663.08 423.20,664.93 423.40,663.28 423.60,665.19 423.80,663.21 424.00,665.27 424.20,663.26 424.40,665.14 424.60,663.36 424.80,664.97 425.00,663.63 425.20,665.17 425.40,663.26 425.60,665.07 425.80,663.26 426.00,664.98 426.20,663.24 426.40,665.18 426.60,663.55 426.80,665.21 427.00,663.84 427.20,665.38 427.40,663.42 427.60,665.11 427.80,663.66 428.00,665.16 428.20,663.33 428.40,665.58 428.60,663.03 428.80,665.52 429.00,663.52 429.20,661.82 429.40,663.49 429.60,665.43 429.80,663.42 430.00,665.13 430.20,663.72 430.40,665.50 430.60,663.72 430.80,665.43 431.00,663.57 431.20,665.35 431.40,663.47 431.60,665.51 431.80,661.82 432.00,665.46 432.20,663.82 432.40,665.61 432.60,663.88 432.80,665.29 433.00,663.21 433.20,662.12 433.40,663.47 433.60,665.25 433.80,663.32 434.00,665.54 434.20,663.39 434.40,664.99 434.60,663.72 434.80,665.39 435.00,663.48 435.20,666.25 435.40,663.50 435.60,665.20 435.80,663.71 436.00,665.47 436.20,663.61 436.40,664.90 436.60,663.45 436.80,665.12 437.00,663.22 437.20,664.85 437.40,663.16 437.60,664.80 437.80,663.32 438.00,664.98 438.20,663.16 438.40,664.99 438.60,663.20 438.80,665.09 439.00,663.20 439.20,664.68 439.40,662.91 439.60,662.19 439.80,663.25 440.00,664.77 440.20,662.97 440.40,662.96 440.60,663.31 440.80,665.02 441.00,663.23 441.20,662.83 441.40,666.39 441.60,664.85 441.80,663.36 442.00,665.25 442.20,663.27 442.40,665.05 442.60,663.25 442.80,665.26 443.00,663.52 443.20,665.04 443.40,663.56 443.60,665.20 443.80,663.44 444.00,663.20 444.20,663.70 444.40,665.66 444.60,663.74 444.80,665.37 445.00,663.98 445.20,665.50 445.40,663.31 445.60,665.63 445.80,663.81 446.00,665.88 446.20,663.74 446.40,665.51 446.60,663.56 446.80,662.76 447.00,663.44 447.20,661.83 447.40,663.55 447.60,665.39 447.80,663.76 448.00,665.40 448.20,663.79 448.40,665.56 448.60,663.53 448.80,662.73 449.00,662.75 449.20,665.44 449.40,663.57 449.60,665.42 449.80,663.64 450.00,665.26 450.20,663.24 450.40,662.84 450.60,662.98 450.80,665.52 451.00,663.81 451.20,665.60 451.40,663.63 451.60,662.84 451.80,663.89 452.00,665.62 452.20,662.91 452.40,665.57 452.60,663.67 452.80,665.56 453.00,663.73 453.20,665.58 453.40,663.68 453.60,663.11 453.80,663.63 454.00,665.14 454.20,663.40 454.40,665.80 454.60,663.58 454.80,665.18 455.00,662.10 455.20,665.06 455.40,663.28 455.60,665.64 455.80,663.55 456.00,665.08"/>
<path d="M66.00,658.24V490.40" stroke="#555" stroke-width="1.0"/>
<path d="M66.00,658.24V572.56" stroke="#3a3a3a" stroke-width="2.0"/>
<path d="M67.50,659.03V635.49" stroke="#606060" stroke-width="1.0"/>
<path d="M69.50,660.09V589.13" stroke="#606060" stroke-width="1.0"/>
<path d="M68.50,659.56V623.51" stroke="#606060" stroke-width="1.0"/>
<path d="M74.50,660.37V613.10" stroke="#606060" stroke-width="1.0"/>
<path d="M88.50,660.41V633.20" stroke="#606060" stroke-width="1.0"/>
<path d="M98.50,660.44V593.01" stroke="#606060" stroke-width="1.0"/>
<path d="M107.50,660.46V642.02" stroke="#606060" stroke-width="1.0"/>
<path d="M108.50,660.47V637.61" stroke="#606060" stroke-width="1.0"/>
<path d="M130.50,660.56V647.31" stroke="#606060" stroke-width="1.0"/>
<path d="M132.50,660.69V647.31" stroke="#606060" stroke-width="1.0"/>
<path d="M174.50,663.35V599.71" stroke="#606060" stroke-width="1.0"/>
<path d="M173.50,663.29V649.07" stroke="#606060" stroke-width="1.0"/>
<path d="M31.50,656.12V645.54" stroke="#606060" stroke-width="1.0"/>
<path d="M33.50,656.12V647.31" stroke="#606060" stroke-width="1.0"/>
<path d="M36.50,656.12V648.19" stroke="#606060" stroke-width="1.0"/>
<path d="M44.50,657.55V649.07" stroke="#606060" stroke-width="1.0"/>
<path d="M213.50,663.80V656.12" stroke="#606060" stroke-width="1.0"/>
<text x="65.90" y="488.70" font-size="6.6" font-family="'Liberation Sans', Arial, sans-serif" textLength="27.60" lengthAdjust="spacingAndGlyphs" fill="#000" stroke="#000" stroke-width="0.12">1274.9651</text>
<text x="69.30" y="587.00" font-size="6.6" font-family="'Liberation Sans', Arial, sans-serif" textLength="28.20" lengthAdjust="spacingAndGlyphs" fill="#000" stroke="#000" stroke-width="0.12">1314.9143</text>
<text x="98.40" y="591.80" font-size="6.6" font-family="'Liberation Sans', Arial, sans-serif" textLength="27.90" lengthAdjust="spacingAndGlyphs" fill="#000" stroke="#000" stroke-width="0.12">1671.2386</text>
<text x="74.50" y="611.70" font-size="6.6" font-family="'Liberation Sans', Arial, sans-serif" textLength="28.00" lengthAdjust="spacingAndGlyphs" fill="#000" stroke="#000" stroke-width="0.12">1379.9538</text>
<text x="88.70" y="631.70" font-size="6.6" font-family="'Liberation Sans', Arial, sans-serif" textLength="28.00" lengthAdjust="spacingAndGlyphs" fill="#000" stroke="#000" stroke-width="0.12">1551.0390</text>
<text x="108.70" y="640.80" font-size="6.6" font-family="'Liberation Sans', Arial, sans-serif" textLength="27.10" lengthAdjust="spacingAndGlyphs" fill="#000" stroke="#000" stroke-width="0.12">1778.3569</text>
<text x="31.10" y="643.80" font-size="6.6" font-family="'Liberation Sans', Arial, sans-serif" textLength="24.50" lengthAdjust="spacingAndGlyphs" fill="#000" stroke="#000" stroke-width="0.12">855.3837</text>
<text x="70.00" y="645.80" font-size="6.6" font-family="'Liberation Sans', Arial, sans-serif" textLength="26.70" lengthAdjust="spacingAndGlyphs" fill="#000" stroke="#000" stroke-width="0.12">1307.9315</text>
<text x="41.00" y="651.60" font-size="6.6" font-family="'Liberation Sans', Arial, sans-serif" textLength="24.50" lengthAdjust="spacingAndGlyphs" fill="#000" stroke="#000" stroke-width="0.12">1006.4598</text>
<text x="75.80" y="653.30" font-size="6.6" font-family="'Liberation Sans', Arial, sans-serif" textLength="24.20" lengthAdjust="spacingAndGlyphs" fill="#000" stroke="#000" stroke-width="0.12">1361.9184</text>
<text x="105.30" y="651.70" font-size="6.6" font-family="'Liberation Sans', Arial, sans-serif" textLength="27.20" lengthAdjust="spacingAndGlyphs" fill="#000" stroke="#000" stroke-width="0.12">1745.2408</text>
<text x="137.00" y="655.80" font-size="6.6" font-family="'Liberation Sans', Arial, sans-serif" textLength="28.00" lengthAdjust="spacingAndGlyphs" fill="#000" stroke="#000" stroke-width="0.12">2135.0670</text>
<text x="174.40" y="598.10" font-size="6.6" font-family="'Liberation Sans', Arial, sans-serif" textLength="28.50" lengthAdjust="spacingAndGlyphs" fill="#000" stroke="#000" stroke-width="0.12">2587.7635</text>
<text x="170.80" y="654.00" font-size="6.6" font-family="'Liberation Sans', Arial, sans-serif" textLength="28.00" lengthAdjust="spacingAndGlyphs" fill="#000" stroke="#000" stroke-width="0.12">2546.5833</text>
<text x="213.30" y="656.00" font-size="6.6" font-family="'Liberation Sans', Arial, sans-serif" textLength="28.40" lengthAdjust="spacingAndGlyphs" fill="#000" stroke="#000" stroke-width="0.12">3064.2886</text>
<text x="266.50" y="657.90" font-size="6.6" font-family="'Liberation Sans', Arial, sans-serif" textLength="28.10" lengthAdjust="spacingAndGlyphs" fill="#000" stroke="#000" stroke-width="0.12">3710.2477</text>
<text x="304.00" y="660.00" font-size="6.6" font-family="'Liberation Sans', Arial, sans-serif" textLength="28.00" lengthAdjust="spacingAndGlyphs" fill="#000" stroke="#000" stroke-width="0.12">4151.5365</text>
<text x="333.25" y="659.30" font-size="6.6" font-family="'Liberation Sans', Arial, sans-serif" textLength="28.75" lengthAdjust="spacingAndGlyphs" fill="#000" stroke="#000" stroke-width="0.12">4509.0989</text>
<text x="391.00" y="659.30" font-size="6.6" font-family="'Liberation Sans', Arial, sans-serif" textLength="28.40" lengthAdjust="spacingAndGlyphs" fill="#000" stroke="#000" stroke-width="0.12">5212.4063</text>
<text x="420.00" y="660.40" font-size="6.6" font-family="'Liberation Sans', Arial, sans-serif" textLength="28.70" lengthAdjust="spacingAndGlyphs" fill="#000" stroke="#000" stroke-width="0.12">5562.1086</text>
</svg>
</body></html>
